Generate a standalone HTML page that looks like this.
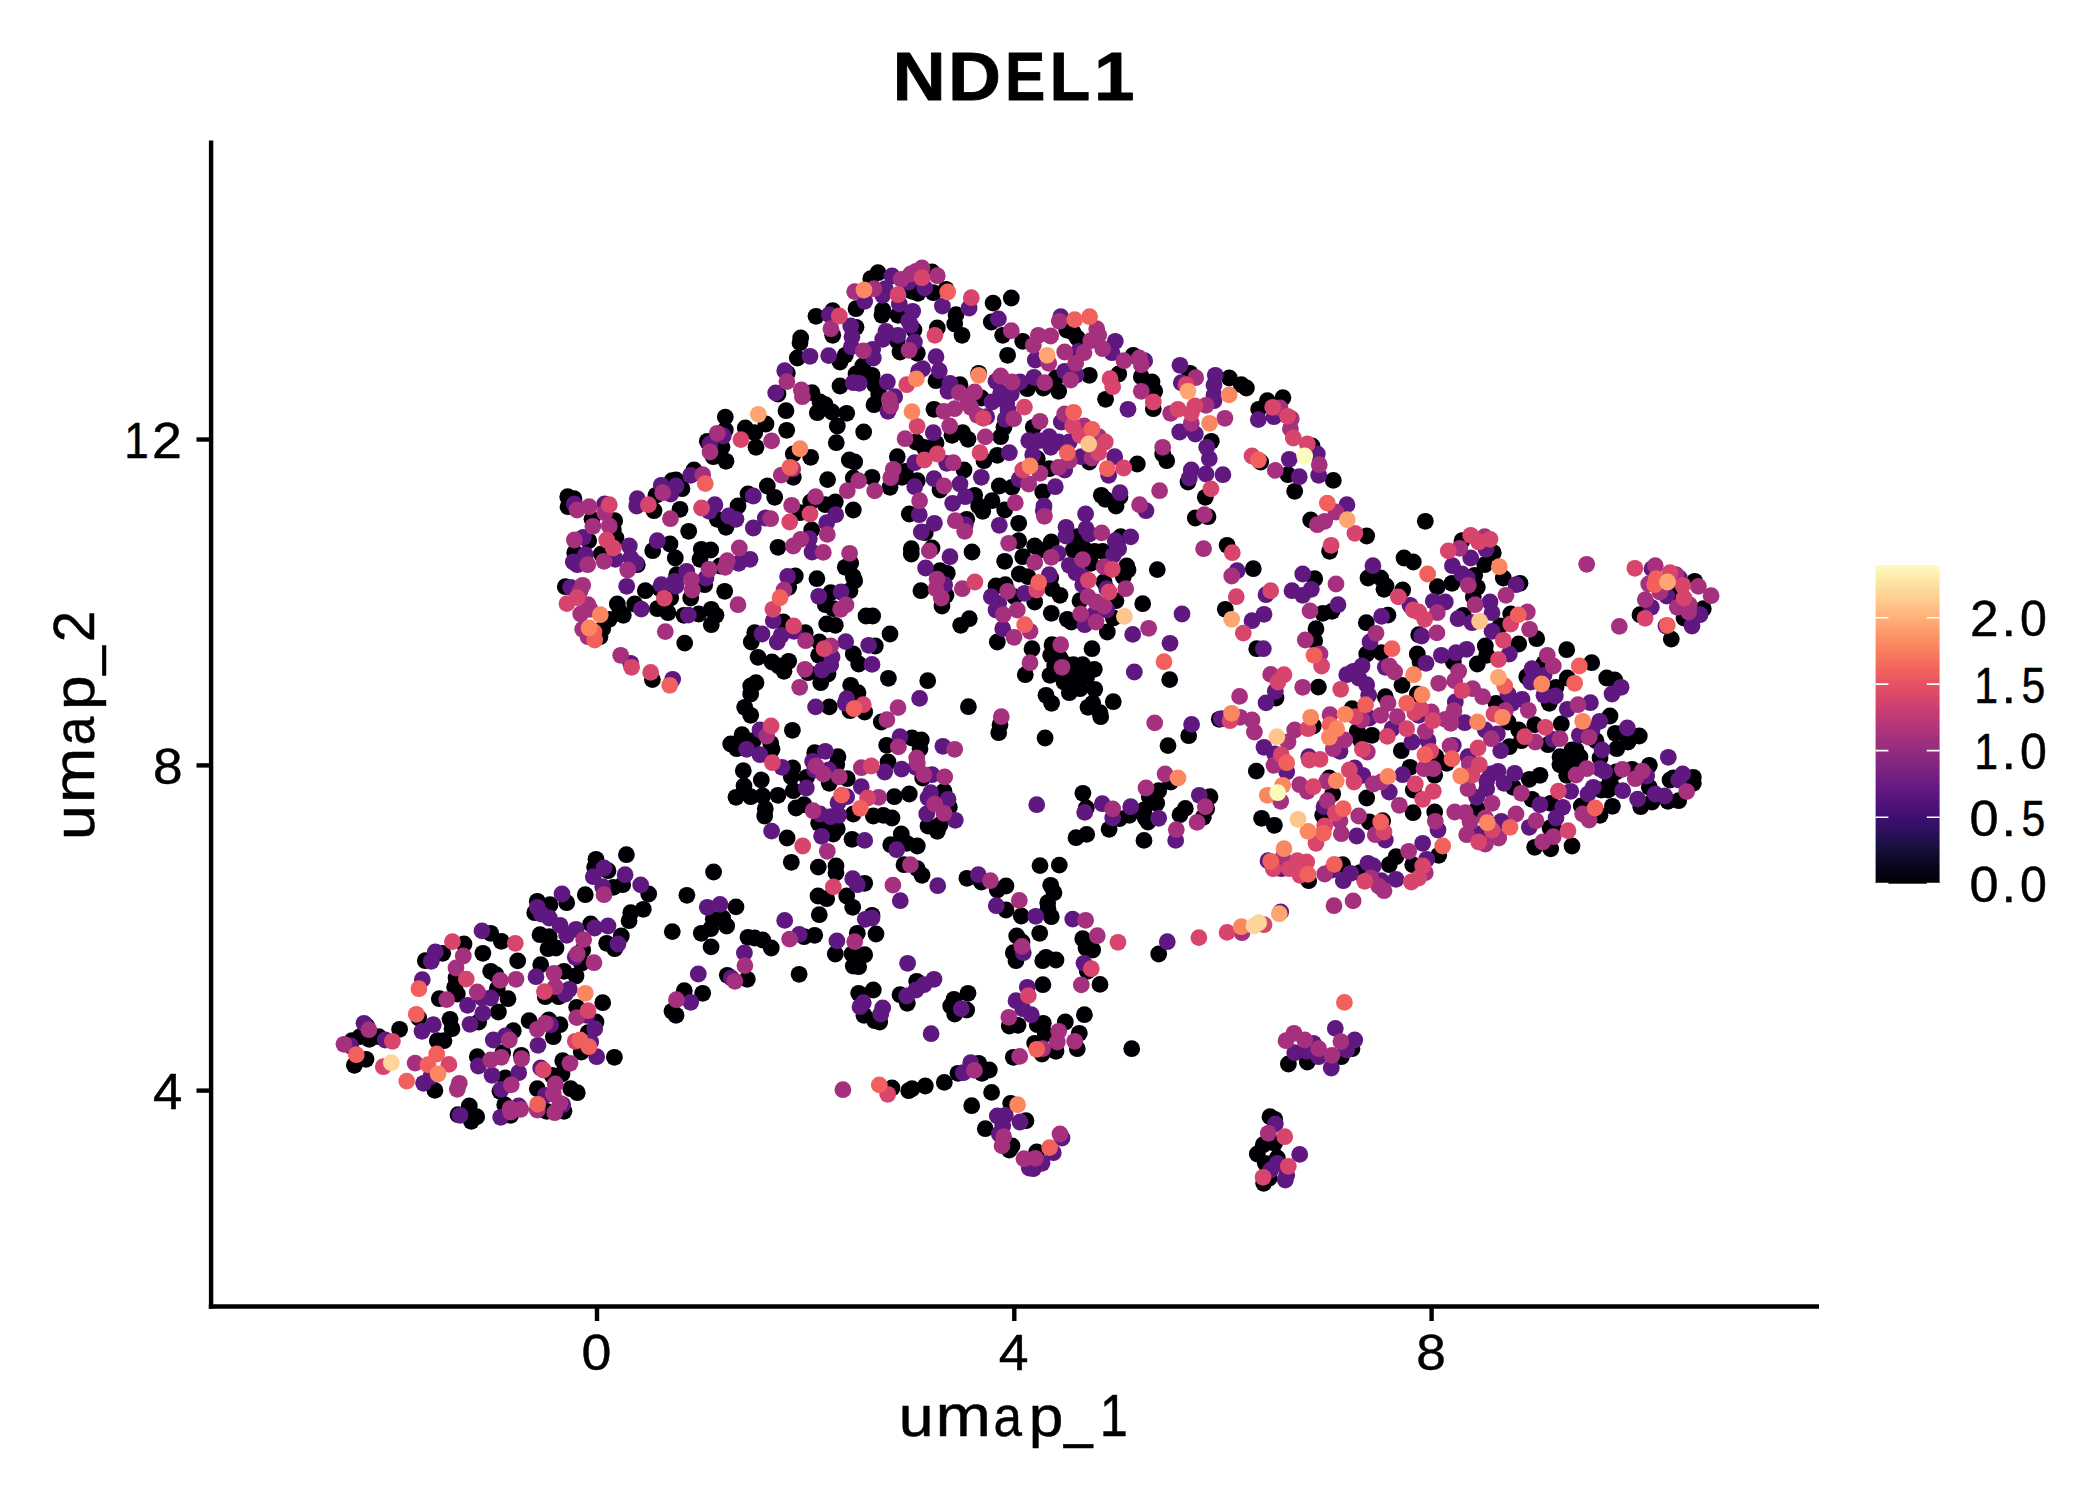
<!DOCTYPE html>
<html><head><meta charset="utf-8"><title>NDEL1</title>
<style>
html,body{margin:0;padding:0;background:#fff;}
body{width:2100px;height:1500px;overflow:hidden;font-family:"Liberation Sans",sans-serif;}
svg{display:block;position:absolute;left:0;top:0;}
text{font-family:"Liberation Sans",sans-serif;fill:#000;}
</style></head><body>
<svg width="2100" height="1500" viewBox="0 0 2100 1500">
<defs><linearGradient id="mg" x1="0" y1="1" x2="0" y2="0">
<stop offset="0.0000" stop-color="#000004"/><stop offset="0.0526" stop-color="#07061C"/><stop offset="0.1053" stop-color="#150E38"/><stop offset="0.1579" stop-color="#29115A"/><stop offset="0.2105" stop-color="#3F0F72"/><stop offset="0.2632" stop-color="#56147D"/><stop offset="0.3158" stop-color="#6A1C81"/><stop offset="0.3684" stop-color="#802582"/><stop offset="0.4211" stop-color="#942C80"/><stop offset="0.4737" stop-color="#AB337C"/><stop offset="0.5263" stop-color="#C03A76"/><stop offset="0.5789" stop-color="#D6456C"/><stop offset="0.6316" stop-color="#E85362"/><stop offset="0.6842" stop-color="#F4695C"/><stop offset="0.7368" stop-color="#FA815F"/><stop offset="0.7895" stop-color="#FD9B6B"/><stop offset="0.8421" stop-color="#FEB47B"/><stop offset="0.8947" stop-color="#FECD90"/><stop offset="0.9474" stop-color="#FDE5A7"/><stop offset="1.0000" stop-color="#FCFDBF"/>
</linearGradient></defs>
<rect x="0" y="0" width="2100" height="1500" fill="#fff"/>
<g id="pts">
<g fill="#000004"><circle cx="596.0" cy="859.3" r="8.4"/><circle cx="594.7" cy="867.3" r="8.4"/><circle cx="585.3" cy="894.7" r="8.4"/><circle cx="566.7" cy="902.7" r="8.4"/><circle cx="537.3" cy="901.3" r="8.4"/><circle cx="550.0" cy="904.7" r="8.4"/><circle cx="534.7" cy="912.7" r="8.4"/><circle cx="590.7" cy="924.0" r="8.4"/><circle cx="540.0" cy="934.7" r="8.4"/><circle cx="549.3" cy="936.7" r="8.4"/><circle cx="548.0" cy="948.7" r="8.4"/><circle cx="556.0" cy="948.0" r="8.4"/><circle cx="582.7" cy="950.0" r="8.4"/><circle cx="581.3" cy="963.3" r="8.4"/><circle cx="540.7" cy="964.7" r="8.4"/><circle cx="564.0" cy="971.3" r="8.4"/><circle cx="576.0" cy="976.0" r="8.4"/><circle cx="545.3" cy="996.7" r="8.4"/><circle cx="558.7" cy="996.7" r="8.4"/><circle cx="576.7" cy="1007.3" r="8.4"/><circle cx="529.1" cy="1020.7" r="8.4"/><circle cx="548.7" cy="1020.0" r="8.4"/><circle cx="560.0" cy="1024.7" r="8.4"/><circle cx="553.3" cy="1036.7" r="8.4"/><circle cx="513.3" cy="1030.7" r="8.4"/><circle cx="588.0" cy="1032.7" r="8.4"/><circle cx="596.0" cy="1022.0" r="8.4"/><circle cx="490.7" cy="933.3" r="8.4"/><circle cx="501.3" cy="941.3" r="8.4"/><circle cx="482.9" cy="953.3" r="8.4"/><circle cx="517.7" cy="960.9" r="8.4"/><circle cx="490.7" cy="971.3" r="8.4"/><circle cx="496.0" cy="974.7" r="8.4"/><circle cx="497.3" cy="988.7" r="8.4"/><circle cx="508.0" cy="998.7" r="8.4"/><circle cx="498.4" cy="1012.0" r="8.4"/><circle cx="478.7" cy="1022.0" r="8.4"/><circle cx="464.0" cy="944.0" r="8.4"/><circle cx="442.7" cy="953.3" r="8.4"/><circle cx="425.3" cy="960.7" r="8.4"/><circle cx="456.0" cy="978.0" r="8.4"/><circle cx="454.7" cy="987.3" r="8.4"/><circle cx="457.3" cy="994.0" r="8.4"/><circle cx="439.3" cy="998.7" r="8.4"/><circle cx="418.7" cy="1018.0" r="8.4"/><circle cx="450.0" cy="1019.3" r="8.4"/><circle cx="452.0" cy="1028.7" r="8.4"/><circle cx="437.3" cy="1040.7" r="8.4"/><circle cx="444.0" cy="1040.7" r="8.4"/><circle cx="399.6" cy="1029.3" r="8.4"/><circle cx="366.7" cy="1026.0" r="8.4"/><circle cx="352.0" cy="1040.7" r="8.4"/><circle cx="360.0" cy="1036.7" r="8.4"/><circle cx="369.3" cy="1039.3" r="8.4"/><circle cx="378.7" cy="1036.7" r="8.4"/><circle cx="366.0" cy="1059.3" r="8.4"/><circle cx="354.4" cy="1065.3" r="8.4"/><circle cx="434.9" cy="1090.4" r="8.4"/><circle cx="477.3" cy="1056.7" r="8.4"/><circle cx="502.7" cy="1052.7" r="8.4"/><circle cx="505.3" cy="1078.0" r="8.4"/><circle cx="521.3" cy="1055.3" r="8.4"/><circle cx="500.0" cy="1091.3" r="8.4"/><circle cx="552.0" cy="1075.3" r="8.4"/><circle cx="562.0" cy="1074.0" r="8.4"/><circle cx="562.7" cy="1060.7" r="8.4"/><circle cx="581.3" cy="1052.0" r="8.4"/><circle cx="537.3" cy="1088.7" r="8.4"/><circle cx="570.7" cy="1088.7" r="8.4"/><circle cx="577.3" cy="1092.7" r="8.4"/><circle cx="546.7" cy="1111.3" r="8.4"/><circle cx="564.0" cy="1111.3" r="8.4"/><circle cx="504.7" cy="1104.7" r="8.4"/><circle cx="510.7" cy="1115.3" r="8.4"/><circle cx="469.3" cy="1106.0" r="8.4"/><circle cx="458.0" cy="1114.7" r="8.4"/><circle cx="476.7" cy="1116.7" r="8.4"/><circle cx="471.3" cy="1121.3" r="8.4"/><circle cx="567.7" cy="496.7" r="8.4"/><circle cx="574.0" cy="498.7" r="8.4"/><circle cx="568.0" cy="506.7" r="8.4"/><circle cx="592.0" cy="519.3" r="8.4"/><circle cx="614.7" cy="520.7" r="8.4"/><circle cx="613.3" cy="530.0" r="8.4"/><circle cx="588.7" cy="540.7" r="8.4"/><circle cx="616.0" cy="538.0" r="8.4"/><circle cx="574.7" cy="552.7" r="8.4"/><circle cx="601.3" cy="554.0" r="8.4"/><circle cx="637.3" cy="564.7" r="8.4"/><circle cx="565.3" cy="586.7" r="8.4"/><circle cx="602.7" cy="628.7" r="8.4"/><circle cx="600.0" cy="636.7" r="8.4"/><circle cx="609.3" cy="619.3" r="8.4"/><circle cx="617.3" cy="604.0" r="8.4"/><circle cx="620.0" cy="612.0" r="8.4"/><circle cx="623.3" cy="615.3" r="8.4"/><circle cx="634.7" cy="604.0" r="8.4"/><circle cx="645.3" cy="590.7" r="8.4"/><circle cx="657.3" cy="608.7" r="8.4"/><circle cx="668.0" cy="612.7" r="8.4"/><circle cx="660.0" cy="588.7" r="8.4"/><circle cx="676.7" cy="574.7" r="8.4"/><circle cx="670.7" cy="598.0" r="8.4"/><circle cx="690.7" cy="598.0" r="8.4"/><circle cx="704.7" cy="584.7" r="8.4"/><circle cx="724.7" cy="591.3" r="8.4"/><circle cx="684.0" cy="615.3" r="8.4"/><circle cx="698.7" cy="614.0" r="8.4"/><circle cx="711.3" cy="609.3" r="8.4"/><circle cx="716.0" cy="615.3" r="8.4"/><circle cx="711.3" cy="624.7" r="8.4"/><circle cx="684.7" cy="643.1" r="8.4"/><circle cx="654.0" cy="510.7" r="8.4"/><circle cx="656.0" cy="495.3" r="8.4"/><circle cx="672.0" cy="480.7" r="8.4"/><circle cx="676.0" cy="480.0" r="8.4"/><circle cx="682.0" cy="488.7" r="8.4"/><circle cx="694.0" cy="470.0" r="8.4"/><circle cx="713.3" cy="456.7" r="8.4"/><circle cx="726.0" cy="461.3" r="8.4"/><circle cx="680.0" cy="509.3" r="8.4"/><circle cx="688.7" cy="531.3" r="8.4"/><circle cx="738.0" cy="506.0" r="8.4"/><circle cx="717.3" cy="519.3" r="8.4"/><circle cx="726.0" cy="527.3" r="8.4"/><circle cx="670.0" cy="544.0" r="8.4"/><circle cx="652.7" cy="550.7" r="8.4"/><circle cx="675.3" cy="558.0" r="8.4"/><circle cx="701.3" cy="549.3" r="8.4"/><circle cx="710.7" cy="550.0" r="8.4"/><circle cx="700.0" cy="559.3" r="8.4"/><circle cx="720.0" cy="566.0" r="8.4"/><circle cx="652.4" cy="679.6" r="8.4"/><circle cx="730.7" cy="744.0" r="8.4"/><circle cx="736.7" cy="748.7" r="8.4"/><circle cx="736.0" cy="797.3" r="8.4"/><circle cx="878.0" cy="272.7" r="8.4"/><circle cx="870.7" cy="278.7" r="8.4"/><circle cx="856.0" cy="308.7" r="8.4"/><circle cx="832.7" cy="310.7" r="8.4"/><circle cx="816.0" cy="316.3" r="8.4"/><circle cx="832.7" cy="335.3" r="8.4"/><circle cx="856.0" cy="327.3" r="8.4"/><circle cx="800.7" cy="338.0" r="8.4"/><circle cx="800.0" cy="342.7" r="8.4"/><circle cx="797.3" cy="358.0" r="8.4"/><circle cx="845.3" cy="355.3" r="8.4"/><circle cx="840.0" cy="362.0" r="8.4"/><circle cx="862.7" cy="366.0" r="8.4"/><circle cx="856.0" cy="374.0" r="8.4"/><circle cx="872.0" cy="375.3" r="8.4"/><circle cx="787.3" cy="373.3" r="8.4"/><circle cx="778.0" cy="394.0" r="8.4"/><circle cx="812.0" cy="392.7" r="8.4"/><circle cx="820.0" cy="402.0" r="8.4"/><circle cx="825.3" cy="404.7" r="8.4"/><circle cx="817.3" cy="412.7" r="8.4"/><circle cx="832.0" cy="412.0" r="8.4"/><circle cx="846.7" cy="413.3" r="8.4"/><circle cx="837.3" cy="426.0" r="8.4"/><circle cx="840.0" cy="386.0" r="8.4"/><circle cx="874.7" cy="384.7" r="8.4"/><circle cx="874.0" cy="404.7" r="8.4"/><circle cx="878.7" cy="394.0" r="8.4"/><circle cx="863.7" cy="432.0" r="8.4"/><circle cx="836.3" cy="442.7" r="8.4"/><circle cx="786.0" cy="410.7" r="8.4"/><circle cx="786.7" cy="430.3" r="8.4"/><circle cx="766.0" cy="424.0" r="8.4"/><circle cx="725.3" cy="417.1" r="8.4"/><circle cx="745.3" cy="428.0" r="8.4"/><circle cx="754.7" cy="432.7" r="8.4"/><circle cx="725.3" cy="430.0" r="8.4"/><circle cx="707.3" cy="441.3" r="8.4"/><circle cx="756.0" cy="447.3" r="8.4"/><circle cx="722.0" cy="447.3" r="8.4"/><circle cx="626.4" cy="854.7" r="8.4"/><circle cx="608.0" cy="870.7" r="8.4"/><circle cx="622.7" cy="884.7" r="8.4"/><circle cx="613.3" cy="887.3" r="8.4"/><circle cx="648.7" cy="894.0" r="8.4"/><circle cx="643.3" cy="909.3" r="8.4"/><circle cx="630.7" cy="912.7" r="8.4"/><circle cx="629.1" cy="920.7" r="8.4"/><circle cx="621.3" cy="936.0" r="8.4"/><circle cx="606.7" cy="943.3" r="8.4"/><circle cx="614.7" cy="948.7" r="8.4"/><circle cx="713.6" cy="872.0" r="8.4"/><circle cx="686.9" cy="895.3" r="8.4"/><circle cx="736.0" cy="906.9" r="8.4"/><circle cx="713.3" cy="919.3" r="8.4"/><circle cx="722.7" cy="918.0" r="8.4"/><circle cx="726.7" cy="926.0" r="8.4"/><circle cx="710.7" cy="928.7" r="8.4"/><circle cx="701.3" cy="933.3" r="8.4"/><circle cx="672.3" cy="931.6" r="8.4"/><circle cx="711.1" cy="946.9" r="8.4"/><circle cx="748.0" cy="937.3" r="8.4"/><circle cx="754.7" cy="938.0" r="8.4"/><circle cx="762.7" cy="940.0" r="8.4"/><circle cx="771.3" cy="948.0" r="8.4"/><circle cx="727.3" cy="975.3" r="8.4"/><circle cx="747.3" cy="979.3" r="8.4"/><circle cx="684.3" cy="990.7" r="8.4"/><circle cx="702.7" cy="993.3" r="8.4"/><circle cx="672.0" cy="1011.3" r="8.4"/><circle cx="676.0" cy="1015.3" r="8.4"/><circle cx="799.1" cy="974.3" r="8.4"/><circle cx="602.7" cy="1002.7" r="8.4"/><circle cx="791.3" cy="862.3" r="8.4"/><circle cx="818.3" cy="867.1" r="8.4"/><circle cx="836.0" cy="866.0" r="8.4"/><circle cx="836.0" cy="872.7" r="8.4"/><circle cx="864.7" cy="883.3" r="8.4"/><circle cx="818.0" cy="896.0" r="8.4"/><circle cx="826.7" cy="898.7" r="8.4"/><circle cx="846.7" cy="896.0" r="8.4"/><circle cx="852.7" cy="907.3" r="8.4"/><circle cx="819.3" cy="914.7" r="8.4"/><circle cx="804.0" cy="936.7" r="8.4"/><circle cx="814.7" cy="935.3" r="8.4"/><circle cx="872.0" cy="915.3" r="8.4"/><circle cx="857.3" cy="933.3" r="8.4"/><circle cx="876.0" cy="934.0" r="8.4"/><circle cx="835.3" cy="954.0" r="8.4"/><circle cx="852.0" cy="954.0" r="8.4"/><circle cx="864.7" cy="954.7" r="8.4"/><circle cx="853.3" cy="966.0" r="8.4"/><circle cx="858.7" cy="966.7" r="8.4"/><circle cx="858.7" cy="993.3" r="8.4"/><circle cx="873.3" cy="990.0" r="8.4"/><circle cx="864.0" cy="1015.3" r="8.4"/><circle cx="874.7" cy="1020.7" r="8.4"/><circle cx="879.7" cy="1022.0" r="8.4"/><circle cx="614.4" cy="1057.3" r="8.4"/><circle cx="793.3" cy="454.0" r="8.4"/><circle cx="810.7" cy="457.3" r="8.4"/><circle cx="793.3" cy="477.3" r="8.4"/><circle cx="767.3" cy="486.0" r="8.4"/><circle cx="774.7" cy="497.3" r="8.4"/><circle cx="748.0" cy="494.0" r="8.4"/><circle cx="827.6" cy="479.6" r="8.4"/><circle cx="849.3" cy="460.0" r="8.4"/><circle cx="854.7" cy="462.0" r="8.4"/><circle cx="853.3" cy="478.0" r="8.4"/><circle cx="872.0" cy="477.3" r="8.4"/><circle cx="890.0" cy="487.3" r="8.4"/><circle cx="897.3" cy="456.7" r="8.4"/><circle cx="905.3" cy="471.3" r="8.4"/><circle cx="902.0" cy="477.3" r="8.4"/><circle cx="917.3" cy="480.7" r="8.4"/><circle cx="964.0" cy="470.0" r="8.4"/><circle cx="984.0" cy="460.7" r="8.4"/><circle cx="997.3" cy="455.3" r="8.4"/><circle cx="999.3" cy="486.0" r="8.4"/><circle cx="1012.0" cy="487.3" r="8.4"/><circle cx="940.0" cy="490.0" r="8.4"/><circle cx="974.7" cy="495.3" r="8.4"/><circle cx="909.3" cy="514.0" r="8.4"/><circle cx="925.3" cy="532.7" r="8.4"/><circle cx="966.7" cy="519.3" r="8.4"/><circle cx="978.7" cy="506.0" r="8.4"/><circle cx="982.7" cy="511.3" r="8.4"/><circle cx="992.0" cy="500.7" r="8.4"/><circle cx="1004.7" cy="510.0" r="8.4"/><circle cx="1018.7" cy="523.3" r="8.4"/><circle cx="1018.7" cy="540.7" r="8.4"/><circle cx="972.0" cy="552.0" r="8.4"/><circle cx="1004.7" cy="561.3" r="8.4"/><circle cx="1019.3" cy="574.0" r="8.4"/><circle cx="911.3" cy="548.7" r="8.4"/><circle cx="911.3" cy="554.0" r="8.4"/><circle cx="932.0" cy="548.0" r="8.4"/><circle cx="940.0" cy="570.7" r="8.4"/><circle cx="947.3" cy="573.3" r="8.4"/><circle cx="946.0" cy="595.3" r="8.4"/><circle cx="942.0" cy="606.0" r="8.4"/><circle cx="920.9" cy="590.7" r="8.4"/><circle cx="996.0" cy="586.0" r="8.4"/><circle cx="1005.3" cy="584.7" r="8.4"/><circle cx="997.3" cy="642.0" r="8.4"/><circle cx="960.7" cy="625.3" r="8.4"/><circle cx="969.3" cy="618.7" r="8.4"/><circle cx="1014.7" cy="596.7" r="8.4"/><circle cx="890.0" cy="634.0" r="8.4"/><circle cx="866.0" cy="616.0" r="8.4"/><circle cx="872.7" cy="616.0" r="8.4"/><circle cx="826.7" cy="624.0" r="8.4"/><circle cx="835.3" cy="625.3" r="8.4"/><circle cx="830.7" cy="592.7" r="8.4"/><circle cx="825.3" cy="604.7" r="8.4"/><circle cx="833.3" cy="608.7" r="8.4"/><circle cx="845.3" cy="567.3" r="8.4"/><circle cx="850.7" cy="563.3" r="8.4"/><circle cx="853.3" cy="576.7" r="8.4"/><circle cx="854.7" cy="580.7" r="8.4"/><circle cx="850.0" cy="590.7" r="8.4"/><circle cx="853.3" cy="510.0" r="8.4"/><circle cx="816.9" cy="578.7" r="8.4"/><circle cx="795.3" cy="576.0" r="8.4"/><circle cx="788.7" cy="587.3" r="8.4"/><circle cx="783.3" cy="622.0" r="8.4"/><circle cx="805.3" cy="632.7" r="8.4"/><circle cx="754.7" cy="632.7" r="8.4"/><circle cx="751.3" cy="642.0" r="8.4"/><circle cx="819.3" cy="642.0" r="8.4"/><circle cx="875.3" cy="646.0" r="8.4"/><circle cx="800.0" cy="512.7" r="8.4"/><circle cx="810.7" cy="502.0" r="8.4"/><circle cx="825.3" cy="504.7" r="8.4"/><circle cx="835.3" cy="502.0" r="8.4"/><circle cx="811.7" cy="530.0" r="8.4"/><circle cx="778.0" cy="547.3" r="8.4"/><circle cx="758.0" cy="657.3" r="8.4"/><circle cx="772.0" cy="662.0" r="8.4"/><circle cx="788.7" cy="661.3" r="8.4"/><circle cx="784.0" cy="671.3" r="8.4"/><circle cx="778.7" cy="666.0" r="8.4"/><circle cx="818.7" cy="655.3" r="8.4"/><circle cx="808.0" cy="672.7" r="8.4"/><circle cx="828.0" cy="674.0" r="8.4"/><circle cx="820.7" cy="682.7" r="8.4"/><circle cx="853.3" cy="654.0" r="8.4"/><circle cx="858.7" cy="664.0" r="8.4"/><circle cx="888.4" cy="678.3" r="8.4"/><circle cx="927.7" cy="680.7" r="8.4"/><circle cx="850.7" cy="685.3" r="8.4"/><circle cx="858.0" cy="692.7" r="8.4"/><circle cx="864.7" cy="712.0" r="8.4"/><circle cx="850.0" cy="710.7" r="8.4"/><circle cx="829.3" cy="706.9" r="8.4"/><circle cx="756.0" cy="682.7" r="8.4"/><circle cx="750.7" cy="686.0" r="8.4"/><circle cx="750.7" cy="694.0" r="8.4"/><circle cx="744.7" cy="707.3" r="8.4"/><circle cx="750.7" cy="715.3" r="8.4"/><circle cx="792.4" cy="730.3" r="8.4"/><circle cx="742.0" cy="734.7" r="8.4"/><circle cx="753.3" cy="740.7" r="8.4"/><circle cx="770.7" cy="743.3" r="8.4"/><circle cx="772.0" cy="749.3" r="8.4"/><circle cx="792.7" cy="768.0" r="8.4"/><circle cx="743.3" cy="770.7" r="8.4"/><circle cx="761.3" cy="780.0" r="8.4"/><circle cx="791.3" cy="776.7" r="8.4"/><circle cx="744.0" cy="786.0" r="8.4"/><circle cx="750.7" cy="796.7" r="8.4"/><circle cx="762.7" cy="796.0" r="8.4"/><circle cx="778.0" cy="795.3" r="8.4"/><circle cx="793.3" cy="790.7" r="8.4"/><circle cx="765.3" cy="808.7" r="8.4"/><circle cx="764.7" cy="816.0" r="8.4"/><circle cx="796.0" cy="808.0" r="8.4"/><circle cx="804.0" cy="804.7" r="8.4"/><circle cx="787.1" cy="838.0" r="8.4"/><circle cx="806.7" cy="777.3" r="8.4"/><circle cx="814.7" cy="752.7" r="8.4"/><circle cx="838.0" cy="756.7" r="8.4"/><circle cx="836.7" cy="764.7" r="8.4"/><circle cx="847.3" cy="778.7" r="8.4"/><circle cx="829.3" cy="783.3" r="8.4"/><circle cx="818.7" cy="823.3" r="8.4"/><circle cx="826.7" cy="827.3" r="8.4"/><circle cx="837.3" cy="828.7" r="8.4"/><circle cx="833.3" cy="834.0" r="8.4"/><circle cx="888.0" cy="762.0" r="8.4"/><circle cx="853.3" cy="814.0" r="8.4"/><circle cx="873.3" cy="816.0" r="8.4"/><circle cx="883.3" cy="815.3" r="8.4"/><circle cx="892.0" cy="818.0" r="8.4"/><circle cx="894.3" cy="796.7" r="8.4"/><circle cx="909.3" cy="794.0" r="8.4"/><circle cx="852.0" cy="839.3" r="8.4"/><circle cx="901.3" cy="834.0" r="8.4"/><circle cx="890.7" cy="844.7" r="8.4"/><circle cx="906.7" cy="843.3" r="8.4"/><circle cx="917.3" cy="846.0" r="8.4"/><circle cx="881.3" cy="722.0" r="8.4"/><circle cx="968.4" cy="706.7" r="8.4"/><circle cx="1000.0" cy="724.7" r="8.4"/><circle cx="998.7" cy="732.7" r="8.4"/><circle cx="886.7" cy="745.3" r="8.4"/><circle cx="912.0" cy="738.0" r="8.4"/><circle cx="921.3" cy="740.0" r="8.4"/><circle cx="920.0" cy="748.7" r="8.4"/><circle cx="922.7" cy="778.0" r="8.4"/><circle cx="944.0" cy="791.3" r="8.4"/><circle cx="949.3" cy="807.3" r="8.4"/><circle cx="928.0" cy="826.0" r="8.4"/><circle cx="940.0" cy="824.7" r="8.4"/><circle cx="937.3" cy="831.3" r="8.4"/><circle cx="932.0" cy="272.0" r="8.4"/><circle cx="912.0" cy="291.3" r="8.4"/><circle cx="918.0" cy="293.3" r="8.4"/><circle cx="933.3" cy="292.7" r="8.4"/><circle cx="946.0" cy="289.3" r="8.4"/><circle cx="882.7" cy="310.0" r="8.4"/><circle cx="882.0" cy="315.3" r="8.4"/><circle cx="898.0" cy="315.3" r="8.4"/><circle cx="956.0" cy="314.7" r="8.4"/><circle cx="954.7" cy="324.0" r="8.4"/><circle cx="962.0" cy="335.3" r="8.4"/><circle cx="937.3" cy="328.0" r="8.4"/><circle cx="993.1" cy="303.1" r="8.4"/><circle cx="1011.3" cy="298.0" r="8.4"/><circle cx="991.3" cy="322.0" r="8.4"/><circle cx="1002.7" cy="335.3" r="8.4"/><circle cx="1022.7" cy="341.3" r="8.4"/><circle cx="1007.6" cy="355.3" r="8.4"/><circle cx="914.0" cy="330.0" r="8.4"/><circle cx="897.3" cy="340.7" r="8.4"/><circle cx="900.0" cy="352.0" r="8.4"/><circle cx="917.3" cy="353.3" r="8.4"/><circle cx="936.0" cy="380.7" r="8.4"/><circle cx="960.0" cy="384.7" r="8.4"/><circle cx="978.7" cy="373.3" r="8.4"/><circle cx="981.3" cy="398.0" r="8.4"/><circle cx="934.0" cy="409.3" r="8.4"/><circle cx="962.7" cy="432.7" r="8.4"/><circle cx="952.0" cy="435.3" r="8.4"/><circle cx="968.0" cy="439.3" r="8.4"/><circle cx="916.0" cy="442.0" r="8.4"/><circle cx="936.0" cy="443.3" r="8.4"/><circle cx="924.0" cy="447.3" r="8.4"/><circle cx="1000.7" cy="436.7" r="8.4"/><circle cx="1004.0" cy="427.3" r="8.4"/><circle cx="1027.3" cy="388.7" r="8.4"/><circle cx="1043.3" cy="388.0" r="8.4"/><circle cx="1058.7" cy="391.3" r="8.4"/><circle cx="1056.0" cy="378.0" r="8.4"/><circle cx="1089.3" cy="375.3" r="8.4"/><circle cx="1073.3" cy="332.7" r="8.4"/><circle cx="1077.3" cy="338.0" r="8.4"/><circle cx="1066.7" cy="330.0" r="8.4"/><circle cx="1133.3" cy="355.3" r="8.4"/><circle cx="1118.7" cy="374.0" r="8.4"/><circle cx="1141.3" cy="376.7" r="8.4"/><circle cx="1152.0" cy="382.0" r="8.4"/><circle cx="1154.7" cy="391.3" r="8.4"/><circle cx="1153.3" cy="408.7" r="8.4"/><circle cx="1105.6" cy="399.3" r="8.4"/><circle cx="1033.3" cy="427.3" r="8.4"/><circle cx="904.0" cy="864.7" r="8.4"/><circle cx="917.3" cy="868.7" r="8.4"/><circle cx="922.0" cy="875.3" r="8.4"/><circle cx="966.9" cy="878.3" r="8.4"/><circle cx="981.3" cy="882.0" r="8.4"/><circle cx="1006.0" cy="886.0" r="8.4"/><circle cx="997.3" cy="890.0" r="8.4"/><circle cx="1040.0" cy="865.6" r="8.4"/><circle cx="1059.3" cy="865.1" r="8.4"/><circle cx="1050.7" cy="885.3" r="8.4"/><circle cx="1054.0" cy="892.7" r="8.4"/><circle cx="1047.7" cy="902.7" r="8.4"/><circle cx="1006.0" cy="910.0" r="8.4"/><circle cx="1021.3" cy="916.0" r="8.4"/><circle cx="1051.3" cy="916.7" r="8.4"/><circle cx="1048.0" cy="908.7" r="8.4"/><circle cx="1082.7" cy="938.7" r="8.4"/><circle cx="1086.0" cy="948.0" r="8.4"/><circle cx="1092.7" cy="950.0" r="8.4"/><circle cx="1039.7" cy="933.3" r="8.4"/><circle cx="1016.7" cy="936.0" r="8.4"/><circle cx="1022.0" cy="942.0" r="8.4"/><circle cx="1013.3" cy="952.7" r="8.4"/><circle cx="1016.0" cy="960.7" r="8.4"/><circle cx="1042.7" cy="960.7" r="8.4"/><circle cx="1046.0" cy="957.3" r="8.4"/><circle cx="1056.0" cy="960.0" r="8.4"/><circle cx="1087.3" cy="971.3" r="8.4"/><circle cx="1100.0" cy="984.4" r="8.4"/><circle cx="1042.9" cy="984.7" r="8.4"/><circle cx="1009.3" cy="1026.0" r="8.4"/><circle cx="1018.0" cy="1025.3" r="8.4"/><circle cx="1037.3" cy="1024.7" r="8.4"/><circle cx="1043.3" cy="1023.3" r="8.4"/><circle cx="1065.3" cy="1022.0" r="8.4"/><circle cx="1084.4" cy="1014.7" r="8.4"/><circle cx="1079.3" cy="1033.3" r="8.4"/><circle cx="1045.3" cy="1034.0" r="8.4"/><circle cx="1034.7" cy="1043.3" r="8.4"/><circle cx="1077.3" cy="1048.7" r="8.4"/><circle cx="1131.7" cy="1048.7" r="8.4"/><circle cx="1158.7" cy="954.0" r="8.4"/><circle cx="916.7" cy="981.3" r="8.4"/><circle cx="900.0" cy="994.7" r="8.4"/><circle cx="907.3" cy="1003.3" r="8.4"/><circle cx="968.0" cy="993.3" r="8.4"/><circle cx="954.0" cy="999.3" r="8.4"/><circle cx="950.7" cy="1006.0" r="8.4"/><circle cx="954.7" cy="1014.0" r="8.4"/><circle cx="966.7" cy="1010.0" r="8.4"/><circle cx="892.0" cy="1088.0" r="8.4"/><circle cx="908.7" cy="1090.7" r="8.4"/><circle cx="912.0" cy="1088.7" r="8.4"/><circle cx="925.3" cy="1086.0" r="8.4"/><circle cx="944.3" cy="1082.4" r="8.4"/><circle cx="958.0" cy="1073.3" r="8.4"/><circle cx="978.7" cy="1063.3" r="8.4"/><circle cx="989.3" cy="1070.0" r="8.4"/><circle cx="982.0" cy="1073.3" r="8.4"/><circle cx="991.6" cy="1092.4" r="8.4"/><circle cx="971.7" cy="1105.7" r="8.4"/><circle cx="1010.7" cy="1103.3" r="8.4"/><circle cx="1026.0" cy="1120.7" r="8.4"/><circle cx="985.3" cy="1128.7" r="8.4"/><circle cx="1012.0" cy="1146.0" r="8.4"/><circle cx="1009.3" cy="1150.0" r="8.4"/><circle cx="1036.7" cy="1152.0" r="8.4"/><circle cx="1013.3" cy="1057.3" r="8.4"/><circle cx="1042.0" cy="1054.0" r="8.4"/><circle cx="1056.0" cy="1051.3" r="8.4"/><circle cx="1037.3" cy="458.7" r="8.4"/><circle cx="1049.3" cy="468.7" r="8.4"/><circle cx="1089.3" cy="462.0" r="8.4"/><circle cx="1137.3" cy="464.0" r="8.4"/><circle cx="1162.7" cy="454.0" r="8.4"/><circle cx="1166.7" cy="460.7" r="8.4"/><circle cx="1042.7" cy="492.0" r="8.4"/><circle cx="1101.3" cy="495.3" r="8.4"/><circle cx="1105.3" cy="499.3" r="8.4"/><circle cx="1120.0" cy="496.7" r="8.4"/><circle cx="1116.0" cy="506.0" r="8.4"/><circle cx="1120.7" cy="536.7" r="8.4"/><circle cx="1077.3" cy="536.7" r="8.4"/><circle cx="1051.3" cy="542.0" r="8.4"/><circle cx="1034.7" cy="546.0" r="8.4"/><circle cx="1040.0" cy="550.0" r="8.4"/><circle cx="1073.3" cy="550.0" r="8.4"/><circle cx="1084.0" cy="548.7" r="8.4"/><circle cx="1094.7" cy="551.3" r="8.4"/><circle cx="1102.7" cy="551.3" r="8.4"/><circle cx="1022.7" cy="556.7" r="8.4"/><circle cx="1028.0" cy="576.7" r="8.4"/><circle cx="1090.7" cy="563.3" r="8.4"/><circle cx="1126.7" cy="566.0" r="8.4"/><circle cx="1128.0" cy="570.0" r="8.4"/><circle cx="1123.3" cy="576.7" r="8.4"/><circle cx="1157.3" cy="569.6" r="8.4"/><circle cx="1050.7" cy="578.0" r="8.4"/><circle cx="1034.7" cy="602.0" r="8.4"/><circle cx="1052.0" cy="588.7" r="8.4"/><circle cx="1060.0" cy="595.3" r="8.4"/><circle cx="1104.0" cy="582.0" r="8.4"/><circle cx="1080.0" cy="600.7" r="8.4"/><circle cx="1116.0" cy="600.7" r="8.4"/><circle cx="1142.7" cy="603.7" r="8.4"/><circle cx="1051.3" cy="613.3" r="8.4"/><circle cx="1067.3" cy="619.3" r="8.4"/><circle cx="1071.3" cy="622.0" r="8.4"/><circle cx="1113.3" cy="618.0" r="8.4"/><circle cx="1107.3" cy="632.0" r="8.4"/><circle cx="1032.0" cy="648.7" r="8.4"/><circle cx="1052.0" cy="644.7" r="8.4"/><circle cx="1092.0" cy="648.7" r="8.4"/><circle cx="1188.0" cy="482.0" r="8.4"/><circle cx="1205.3" cy="497.3" r="8.4"/><circle cx="1195.3" cy="518.0" r="8.4"/><circle cx="1208.0" cy="516.7" r="8.4"/><circle cx="1227.1" cy="545.3" r="8.4"/><circle cx="1253.3" cy="568.7" r="8.4"/><circle cx="1225.3" cy="609.3" r="8.4"/><circle cx="1256.7" cy="648.7" r="8.4"/><circle cx="1260.7" cy="462.0" r="8.4"/><circle cx="1288.0" cy="474.7" r="8.4"/><circle cx="1294.7" cy="491.3" r="8.4"/><circle cx="1025.3" cy="674.7" r="8.4"/><circle cx="1050.7" cy="655.3" r="8.4"/><circle cx="1060.0" cy="658.0" r="8.4"/><circle cx="1050.0" cy="675.3" r="8.4"/><circle cx="1066.7" cy="675.3" r="8.4"/><circle cx="1073.3" cy="664.7" r="8.4"/><circle cx="1094.3" cy="669.3" r="8.4"/><circle cx="1073.3" cy="683.3" r="8.4"/><circle cx="1069.3" cy="692.7" r="8.4"/><circle cx="1080.0" cy="688.7" r="8.4"/><circle cx="1094.7" cy="689.3" r="8.4"/><circle cx="1046.0" cy="695.3" r="8.4"/><circle cx="1051.6" cy="703.3" r="8.4"/><circle cx="1088.0" cy="707.3" r="8.4"/><circle cx="1092.7" cy="703.3" r="8.4"/><circle cx="1100.0" cy="712.7" r="8.4"/><circle cx="1100.7" cy="716.7" r="8.4"/><circle cx="1113.3" cy="701.7" r="8.4"/><circle cx="1045.1" cy="738.0" r="8.4"/><circle cx="1169.7" cy="679.6" r="8.4"/><circle cx="1188.7" cy="735.7" r="8.4"/><circle cx="1168.0" cy="745.6" r="8.4"/><circle cx="1276.0" cy="698.0" r="8.4"/><circle cx="1219.3" cy="719.3" r="8.4"/><circle cx="1256.3" cy="771.1" r="8.4"/><circle cx="1261.6" cy="818.3" r="8.4"/><circle cx="1274.4" cy="825.3" r="8.4"/><circle cx="1170.7" cy="782.0" r="8.4"/><circle cx="1158.7" cy="790.7" r="8.4"/><circle cx="1149.3" cy="796.7" r="8.4"/><circle cx="1156.7" cy="803.3" r="8.4"/><circle cx="1144.0" cy="810.0" r="8.4"/><circle cx="1145.3" cy="818.0" r="8.4"/><circle cx="1148.0" cy="822.0" r="8.4"/><circle cx="1129.3" cy="815.3" r="8.4"/><circle cx="1119.3" cy="818.7" r="8.4"/><circle cx="1086.3" cy="808.0" r="8.4"/><circle cx="1082.9" cy="793.3" r="8.4"/><circle cx="1109.1" cy="829.3" r="8.4"/><circle cx="1086.7" cy="834.4" r="8.4"/><circle cx="1076.0" cy="837.7" r="8.4"/><circle cx="1144.0" cy="840.4" r="8.4"/><circle cx="1185.3" cy="808.4" r="8.4"/><circle cx="1180.0" cy="814.7" r="8.4"/><circle cx="1203.3" cy="817.3" r="8.4"/><circle cx="1206.7" cy="808.7" r="8.4"/><circle cx="1210.0" cy="796.7" r="8.4"/><circle cx="1190.0" cy="373.3" r="8.4"/><circle cx="1229.3" cy="378.0" r="8.4"/><circle cx="1241.3" cy="384.7" r="8.4"/><circle cx="1246.4" cy="388.0" r="8.4"/><circle cx="1211.3" cy="441.3" r="8.4"/><circle cx="1267.3" cy="400.7" r="8.4"/><circle cx="1282.9" cy="397.7" r="8.4"/><circle cx="1258.7" cy="409.3" r="8.4"/><circle cx="1312.0" cy="446.0" r="8.4"/><circle cx="1308.7" cy="880.7" r="8.4"/><circle cx="1342.7" cy="864.7" r="8.4"/><circle cx="1360.0" cy="872.7" r="8.4"/><circle cx="1389.3" cy="864.7" r="8.4"/><circle cx="1396.0" cy="856.7" r="8.4"/><circle cx="1412.7" cy="864.7" r="8.4"/><circle cx="1438.7" cy="855.3" r="8.4"/><circle cx="1352.0" cy="1048.7" r="8.4"/><circle cx="1270.0" cy="1116.7" r="8.4"/><circle cx="1274.7" cy="1119.3" r="8.4"/><circle cx="1263.3" cy="1144.7" r="8.4"/><circle cx="1274.7" cy="1143.3" r="8.4"/><circle cx="1257.3" cy="1154.0" r="8.4"/><circle cx="1277.3" cy="1158.0" r="8.4"/><circle cx="1269.3" cy="1178.0" r="8.4"/><circle cx="1263.7" cy="1183.3" r="8.4"/><circle cx="1265.3" cy="1163.3" r="8.4"/><circle cx="1288.4" cy="1064.0" r="8.4"/><circle cx="1307.3" cy="1062.0" r="8.4"/><circle cx="1341.3" cy="1056.7" r="8.4"/><circle cx="1333.3" cy="480.4" r="8.4"/><circle cx="1310.7" cy="520.0" r="8.4"/><circle cx="1366.7" cy="536.0" r="8.4"/><circle cx="1329.6" cy="551.3" r="8.4"/><circle cx="1425.3" cy="521.3" r="8.4"/><circle cx="1368.0" cy="578.0" r="8.4"/><circle cx="1380.7" cy="578.0" r="8.4"/><circle cx="1384.0" cy="589.3" r="8.4"/><circle cx="1386.0" cy="586.0" r="8.4"/><circle cx="1404.0" cy="558.0" r="8.4"/><circle cx="1413.3" cy="562.0" r="8.4"/><circle cx="1402.7" cy="590.0" r="8.4"/><circle cx="1437.3" cy="586.7" r="8.4"/><circle cx="1452.0" cy="583.3" r="8.4"/><circle cx="1463.3" cy="615.3" r="8.4"/><circle cx="1418.7" cy="634.7" r="8.4"/><circle cx="1388.0" cy="615.1" r="8.4"/><circle cx="1366.3" cy="622.7" r="8.4"/><circle cx="1314.7" cy="578.7" r="8.4"/><circle cx="1332.0" cy="611.3" r="8.4"/><circle cx="1322.7" cy="613.3" r="8.4"/><circle cx="1316.0" cy="628.7" r="8.4"/><circle cx="1314.7" cy="640.7" r="8.4"/><circle cx="1462.0" cy="540.7" r="8.4"/><circle cx="1493.3" cy="552.7" r="8.4"/><circle cx="1484.7" cy="564.7" r="8.4"/><circle cx="1474.7" cy="575.3" r="8.4"/><circle cx="1477.3" cy="587.3" r="8.4"/><circle cx="1473.3" cy="596.7" r="8.4"/><circle cx="1503.3" cy="578.0" r="8.4"/><circle cx="1520.0" cy="583.3" r="8.4"/><circle cx="1500.0" cy="626.0" r="8.4"/><circle cx="1510.7" cy="614.0" r="8.4"/><circle cx="1536.7" cy="638.7" r="8.4"/><circle cx="1518.7" cy="644.0" r="8.4"/><circle cx="1485.3" cy="646.0" r="8.4"/><circle cx="1566.7" cy="649.7" r="8.4"/><circle cx="1366.7" cy="654.0" r="8.4"/><circle cx="1381.3" cy="652.7" r="8.4"/><circle cx="1417.3" cy="654.0" r="8.4"/><circle cx="1420.0" cy="662.0" r="8.4"/><circle cx="1453.3" cy="662.0" r="8.4"/><circle cx="1477.3" cy="664.0" r="8.4"/><circle cx="1486.7" cy="655.3" r="8.4"/><circle cx="1544.0" cy="663.3" r="8.4"/><circle cx="1318.4" cy="687.1" r="8.4"/><circle cx="1402.0" cy="685.3" r="8.4"/><circle cx="1417.3" cy="694.0" r="8.4"/><circle cx="1526.7" cy="676.7" r="8.4"/><circle cx="1556.0" cy="687.3" r="8.4"/><circle cx="1567.3" cy="678.0" r="8.4"/><circle cx="1549.3" cy="703.3" r="8.4"/><circle cx="1385.3" cy="696.7" r="8.4"/><circle cx="1352.0" cy="708.7" r="8.4"/><circle cx="1496.0" cy="703.3" r="8.4"/><circle cx="1508.0" cy="722.0" r="8.4"/><circle cx="1534.7" cy="724.7" r="8.4"/><circle cx="1561.3" cy="724.0" r="8.4"/><circle cx="1313.3" cy="726.0" r="8.4"/><circle cx="1357.3" cy="731.3" r="8.4"/><circle cx="1372.0" cy="735.3" r="8.4"/><circle cx="1360.0" cy="739.3" r="8.4"/><circle cx="1401.3" cy="750.7" r="8.4"/><circle cx="1509.3" cy="746.7" r="8.4"/><circle cx="1518.7" cy="730.0" r="8.4"/><circle cx="1521.3" cy="740.7" r="8.4"/><circle cx="1548.0" cy="744.7" r="8.4"/><circle cx="1572.0" cy="750.0" r="8.4"/><circle cx="1560.0" cy="756.7" r="8.4"/><circle cx="1410.0" cy="767.3" r="8.4"/><circle cx="1434.7" cy="775.3" r="8.4"/><circle cx="1436.0" cy="756.7" r="8.4"/><circle cx="1446.7" cy="763.3" r="8.4"/><circle cx="1529.3" cy="779.3" r="8.4"/><circle cx="1540.0" cy="775.3" r="8.4"/><circle cx="1560.0" cy="764.7" r="8.4"/><circle cx="1566.7" cy="775.3" r="8.4"/><circle cx="1329.3" cy="778.0" r="8.4"/><circle cx="1332.7" cy="794.0" r="8.4"/><circle cx="1366.7" cy="798.0" r="8.4"/><circle cx="1413.3" cy="790.0" r="8.4"/><circle cx="1513.3" cy="787.3" r="8.4"/><circle cx="1532.0" cy="799.3" r="8.4"/><circle cx="1550.7" cy="803.3" r="8.4"/><circle cx="1322.7" cy="815.3" r="8.4"/><circle cx="1369.3" cy="822.0" r="8.4"/><circle cx="1382.7" cy="820.7" r="8.4"/><circle cx="1413.1" cy="812.7" r="8.4"/><circle cx="1434.7" cy="812.0" r="8.4"/><circle cx="1477.3" cy="808.7" r="8.4"/><circle cx="1553.3" cy="827.3" r="8.4"/><circle cx="1534.7" cy="847.3" r="8.4"/><circle cx="1572.0" cy="846.0" r="8.4"/><circle cx="1550.7" cy="848.9" r="8.4"/><circle cx="1694.7" cy="581.3" r="8.4"/><circle cx="1676.0" cy="594.0" r="8.4"/><circle cx="1640.0" cy="614.7" r="8.4"/><circle cx="1703.3" cy="608.7" r="8.4"/><circle cx="1684.0" cy="618.0" r="8.4"/><circle cx="1671.3" cy="639.1" r="8.4"/><circle cx="1591.7" cy="662.7" r="8.4"/><circle cx="1606.7" cy="678.0" r="8.4"/><circle cx="1614.7" cy="680.0" r="8.4"/><circle cx="1610.0" cy="716.0" r="8.4"/><circle cx="1615.3" cy="733.3" r="8.4"/><circle cx="1639.3" cy="736.0" r="8.4"/><circle cx="1596.0" cy="740.7" r="8.4"/><circle cx="1628.0" cy="742.0" r="8.4"/><circle cx="1616.7" cy="748.7" r="8.4"/><circle cx="1600.0" cy="758.0" r="8.4"/><circle cx="1632.0" cy="769.3" r="8.4"/><circle cx="1649.3" cy="765.3" r="8.4"/><circle cx="1601.3" cy="790.0" r="8.4"/><circle cx="1612.0" cy="787.3" r="8.4"/><circle cx="1649.3" cy="787.3" r="8.4"/><circle cx="1673.3" cy="778.0" r="8.4"/><circle cx="1693.3" cy="777.3" r="8.4"/><circle cx="1693.3" cy="783.3" r="8.4"/><circle cx="1678.7" cy="800.7" r="8.4"/><circle cx="1668.0" cy="801.3" r="8.4"/><circle cx="1652.0" cy="802.0" r="8.4"/><circle cx="1640.7" cy="806.7" r="8.4"/><circle cx="1612.4" cy="806.3" r="8.4"/><circle cx="1600.0" cy="815.3" r="8.4"/><circle cx="1581.3" cy="806.0" r="8.4"/><circle cx="1576.0" cy="750.0" r="8.4"/><circle cx="1580.0" cy="757.0" r="8.4"/><circle cx="1572.0" cy="762.0" r="8.4"/><circle cx="1568.0" cy="766.0" r="8.4"/><circle cx="1610.0" cy="782.0" r="8.4"/><circle cx="1608.0" cy="790.0" r="8.4"/><circle cx="1616.0" cy="772.0" r="8.4"/><circle cx="1670.0" cy="780.0" r="8.4"/><circle cx="1550.0" cy="828.0" r="8.4"/><circle cx="1054.7" cy="666.0" r="8.4"/><circle cx="1064.0" cy="663.3" r="8.4"/><circle cx="1060.0" cy="672.7" r="8.4"/><circle cx="1078.7" cy="672.7" r="8.4"/><circle cx="1082.7" cy="664.7" r="8.4"/><circle cx="1064.0" cy="682.0" r="8.4"/><circle cx="1077.3" cy="679.3" r="8.4"/><circle cx="1086.7" cy="676.7" r="8.4"/></g>
<g fill="#5F187F"><circle cx="593.3" cy="876.7" r="8.4"/><circle cx="562.0" cy="894.0" r="8.4"/><circle cx="537.3" cy="907.3" r="8.4"/><circle cx="541.3" cy="914.0" r="8.4"/><circle cx="549.3" cy="918.0" r="8.4"/><circle cx="560.0" cy="925.3" r="8.4"/><circle cx="566.7" cy="935.3" r="8.4"/><circle cx="576.0" cy="929.3" r="8.4"/><circle cx="594.7" cy="928.0" r="8.4"/><circle cx="575.3" cy="957.3" r="8.4"/><circle cx="536.0" cy="976.7" r="8.4"/><circle cx="569.3" cy="989.3" r="8.4"/><circle cx="565.3" cy="994.0" r="8.4"/><circle cx="586.7" cy="1015.3" r="8.4"/><circle cx="550.7" cy="1024.7" r="8.4"/><circle cx="538.0" cy="1045.3" r="8.4"/><circle cx="493.3" cy="1040.0" r="8.4"/><circle cx="505.3" cy="1036.0" r="8.4"/><circle cx="594.7" cy="1028.7" r="8.4"/><circle cx="590.7" cy="1042.0" r="8.4"/><circle cx="482.0" cy="930.9" r="8.4"/><circle cx="490.7" cy="998.0" r="8.4"/><circle cx="482.0" cy="998.0" r="8.4"/><circle cx="467.6" cy="1005.3" r="8.4"/><circle cx="482.9" cy="1013.3" r="8.4"/><circle cx="470.0" cy="1024.3" r="8.4"/><circle cx="435.3" cy="952.0" r="8.4"/><circle cx="431.3" cy="961.3" r="8.4"/><circle cx="422.3" cy="979.6" r="8.4"/><circle cx="433.3" cy="1024.7" r="8.4"/><circle cx="422.0" cy="1031.3" r="8.4"/><circle cx="364.0" cy="1023.3" r="8.4"/><circle cx="385.3" cy="1040.0" r="8.4"/><circle cx="350.7" cy="1046.0" r="8.4"/><circle cx="423.6" cy="1083.3" r="8.4"/><circle cx="430.7" cy="1076.7" r="8.4"/><circle cx="478.4" cy="1066.0" r="8.4"/><circle cx="492.0" cy="1075.3" r="8.4"/><circle cx="518.7" cy="1072.7" r="8.4"/><circle cx="501.3" cy="1089.3" r="8.4"/><circle cx="540.7" cy="1068.0" r="8.4"/><circle cx="596.7" cy="1056.7" r="8.4"/><circle cx="545.3" cy="1095.3" r="8.4"/><circle cx="562.7" cy="1104.7" r="8.4"/><circle cx="518.7" cy="1106.0" r="8.4"/><circle cx="500.7" cy="1117.3" r="8.4"/><circle cx="460.0" cy="1115.3" r="8.4"/><circle cx="574.4" cy="504.0" r="8.4"/><circle cx="604.7" cy="504.0" r="8.4"/><circle cx="583.3" cy="537.3" r="8.4"/><circle cx="629.3" cy="546.0" r="8.4"/><circle cx="585.3" cy="554.7" r="8.4"/><circle cx="573.3" cy="562.0" r="8.4"/><circle cx="577.3" cy="564.7" r="8.4"/><circle cx="615.3" cy="559.3" r="8.4"/><circle cx="630.7" cy="558.0" r="8.4"/><circle cx="636.0" cy="563.3" r="8.4"/><circle cx="626.7" cy="586.3" r="8.4"/><circle cx="570.7" cy="587.3" r="8.4"/><circle cx="641.3" cy="609.1" r="8.4"/><circle cx="661.3" cy="584.7" r="8.4"/><circle cx="674.7" cy="581.3" r="8.4"/><circle cx="676.0" cy="586.0" r="8.4"/><circle cx="686.7" cy="571.3" r="8.4"/><circle cx="706.0" cy="578.0" r="8.4"/><circle cx="688.3" cy="615.1" r="8.4"/><circle cx="637.3" cy="498.7" r="8.4"/><circle cx="636.7" cy="506.0" r="8.4"/><circle cx="661.3" cy="485.3" r="8.4"/><circle cx="670.7" cy="494.0" r="8.4"/><circle cx="676.0" cy="486.0" r="8.4"/><circle cx="690.7" cy="475.3" r="8.4"/><circle cx="714.9" cy="504.7" r="8.4"/><circle cx="709.3" cy="511.3" r="8.4"/><circle cx="728.7" cy="516.0" r="8.4"/><circle cx="736.0" cy="519.3" r="8.4"/><circle cx="657.3" cy="540.7" r="8.4"/><circle cx="738.7" cy="563.3" r="8.4"/><circle cx="630.7" cy="663.3" r="8.4"/><circle cx="672.7" cy="679.3" r="8.4"/><circle cx="864.7" cy="301.3" r="8.4"/><circle cx="829.3" cy="314.7" r="8.4"/><circle cx="850.7" cy="326.0" r="8.4"/><circle cx="852.0" cy="336.7" r="8.4"/><circle cx="851.3" cy="346.7" r="8.4"/><circle cx="872.7" cy="349.3" r="8.4"/><circle cx="873.3" cy="358.0" r="8.4"/><circle cx="810.0" cy="356.3" r="8.4"/><circle cx="828.7" cy="355.6" r="8.4"/><circle cx="784.7" cy="370.7" r="8.4"/><circle cx="775.7" cy="392.9" r="8.4"/><circle cx="853.3" cy="382.7" r="8.4"/><circle cx="859.3" cy="383.3" r="8.4"/><circle cx="723.3" cy="436.0" r="8.4"/><circle cx="710.0" cy="444.0" r="8.4"/><circle cx="604.0" cy="868.0" r="8.4"/><circle cx="625.1" cy="874.7" r="8.4"/><circle cx="602.7" cy="886.7" r="8.4"/><circle cx="640.7" cy="884.9" r="8.4"/><circle cx="608.0" cy="926.0" r="8.4"/><circle cx="618.0" cy="944.0" r="8.4"/><circle cx="707.3" cy="907.3" r="8.4"/><circle cx="720.0" cy="904.4" r="8.4"/><circle cx="744.4" cy="952.9" r="8.4"/><circle cx="731.3" cy="978.0" r="8.4"/><circle cx="698.3" cy="974.0" r="8.4"/><circle cx="690.7" cy="1002.3" r="8.4"/><circle cx="852.7" cy="878.7" r="8.4"/><circle cx="857.3" cy="884.7" r="8.4"/><circle cx="784.7" cy="920.4" r="8.4"/><circle cx="799.3" cy="934.4" r="8.4"/><circle cx="865.3" cy="919.3" r="8.4"/><circle cx="872.0" cy="918.0" r="8.4"/><circle cx="836.9" cy="940.9" r="8.4"/><circle cx="863.3" cy="1002.7" r="8.4"/><circle cx="860.0" cy="1006.7" r="8.4"/><circle cx="753.3" cy="496.0" r="8.4"/><circle cx="914.7" cy="462.7" r="8.4"/><circle cx="946.7" cy="463.3" r="8.4"/><circle cx="1009.3" cy="452.7" r="8.4"/><circle cx="981.3" cy="477.3" r="8.4"/><circle cx="1019.3" cy="479.3" r="8.4"/><circle cx="934.0" cy="478.7" r="8.4"/><circle cx="914.7" cy="486.7" r="8.4"/><circle cx="960.0" cy="484.0" r="8.4"/><circle cx="965.3" cy="496.7" r="8.4"/><circle cx="952.7" cy="503.3" r="8.4"/><circle cx="919.3" cy="514.7" r="8.4"/><circle cx="934.4" cy="523.3" r="8.4"/><circle cx="921.3" cy="532.0" r="8.4"/><circle cx="965.3" cy="524.7" r="8.4"/><circle cx="999.3" cy="525.3" r="8.4"/><circle cx="950.0" cy="556.7" r="8.4"/><circle cx="925.6" cy="568.0" r="8.4"/><circle cx="944.7" cy="584.7" r="8.4"/><circle cx="991.3" cy="596.7" r="8.4"/><circle cx="998.7" cy="603.3" r="8.4"/><circle cx="996.0" cy="610.0" r="8.4"/><circle cx="1002.7" cy="628.7" r="8.4"/><circle cx="818.7" cy="596.3" r="8.4"/><circle cx="841.1" cy="592.0" r="8.4"/><circle cx="787.6" cy="576.4" r="8.4"/><circle cx="773.3" cy="620.7" r="8.4"/><circle cx="794.0" cy="631.3" r="8.4"/><circle cx="781.3" cy="635.3" r="8.4"/><circle cx="762.0" cy="634.0" r="8.4"/><circle cx="777.3" cy="642.0" r="8.4"/><circle cx="845.7" cy="641.6" r="8.4"/><circle cx="868.7" cy="645.3" r="8.4"/><circle cx="750.0" cy="559.3" r="8.4"/><circle cx="753.3" cy="528.0" r="8.4"/><circle cx="765.3" cy="518.0" r="8.4"/><circle cx="835.7" cy="514.7" r="8.4"/><circle cx="826.7" cy="522.7" r="8.4"/><circle cx="809.3" cy="538.7" r="8.4"/><circle cx="812.0" cy="552.0" r="8.4"/><circle cx="832.0" cy="657.3" r="8.4"/><circle cx="830.7" cy="664.7" r="8.4"/><circle cx="822.0" cy="670.0" r="8.4"/><circle cx="872.0" cy="664.4" r="8.4"/><circle cx="846.7" cy="698.7" r="8.4"/><circle cx="845.3" cy="703.3" r="8.4"/><circle cx="815.6" cy="706.9" r="8.4"/><circle cx="760.0" cy="730.0" r="8.4"/><circle cx="746.7" cy="749.3" r="8.4"/><circle cx="760.0" cy="754.7" r="8.4"/><circle cx="782.0" cy="767.3" r="8.4"/><circle cx="771.6" cy="831.1" r="8.4"/><circle cx="806.3" cy="788.0" r="8.4"/><circle cx="825.3" cy="751.3" r="8.4"/><circle cx="812.7" cy="761.3" r="8.4"/><circle cx="828.7" cy="770.0" r="8.4"/><circle cx="814.7" cy="770.0" r="8.4"/><circle cx="846.7" cy="796.7" r="8.4"/><circle cx="838.0" cy="802.7" r="8.4"/><circle cx="820.0" cy="814.0" r="8.4"/><circle cx="830.7" cy="816.7" r="8.4"/><circle cx="838.7" cy="815.3" r="8.4"/><circle cx="821.6" cy="836.3" r="8.4"/><circle cx="884.7" cy="772.0" r="8.4"/><circle cx="901.6" cy="769.1" r="8.4"/><circle cx="861.3" cy="786.7" r="8.4"/><circle cx="864.7" cy="840.4" r="8.4"/><circle cx="896.7" cy="849.7" r="8.4"/><circle cx="919.6" cy="698.4" r="8.4"/><circle cx="900.0" cy="736.7" r="8.4"/><circle cx="942.9" cy="746.3" r="8.4"/><circle cx="916.0" cy="767.3" r="8.4"/><circle cx="932.0" cy="774.7" r="8.4"/><circle cx="930.7" cy="792.7" r="8.4"/><circle cx="928.0" cy="798.0" r="8.4"/><circle cx="948.0" cy="799.3" r="8.4"/><circle cx="926.7" cy="814.0" r="8.4"/><circle cx="955.3" cy="820.3" r="8.4"/><circle cx="892.0" cy="276.0" r="8.4"/><circle cx="908.7" cy="282.0" r="8.4"/><circle cx="924.7" cy="288.0" r="8.4"/><circle cx="885.3" cy="288.7" r="8.4"/><circle cx="882.7" cy="295.3" r="8.4"/><circle cx="899.3" cy="304.0" r="8.4"/><circle cx="912.7" cy="311.3" r="8.4"/><circle cx="942.4" cy="306.0" r="8.4"/><circle cx="969.1" cy="308.0" r="8.4"/><circle cx="998.4" cy="318.9" r="8.4"/><circle cx="908.7" cy="320.7" r="8.4"/><circle cx="910.7" cy="325.3" r="8.4"/><circle cx="886.0" cy="331.3" r="8.4"/><circle cx="882.7" cy="339.3" r="8.4"/><circle cx="898.0" cy="335.3" r="8.4"/><circle cx="914.4" cy="342.0" r="8.4"/><circle cx="936.0" cy="356.7" r="8.4"/><circle cx="922.7" cy="368.7" r="8.4"/><circle cx="939.3" cy="370.7" r="8.4"/><circle cx="918.7" cy="371.3" r="8.4"/><circle cx="887.3" cy="382.0" r="8.4"/><circle cx="950.0" cy="383.3" r="8.4"/><circle cx="948.0" cy="391.3" r="8.4"/><circle cx="986.7" cy="416.7" r="8.4"/><circle cx="894.7" cy="396.7" r="8.4"/><circle cx="888.0" cy="411.3" r="8.4"/><circle cx="933.3" cy="432.7" r="8.4"/><circle cx="996.0" cy="381.3" r="8.4"/><circle cx="1020.0" cy="382.0" r="8.4"/><circle cx="1000.7" cy="392.7" r="8.4"/><circle cx="1011.3" cy="394.0" r="8.4"/><circle cx="992.0" cy="402.0" r="8.4"/><circle cx="1006.7" cy="403.3" r="8.4"/><circle cx="1008.0" cy="410.0" r="8.4"/><circle cx="1005.3" cy="419.3" r="8.4"/><circle cx="1034.0" cy="377.3" r="8.4"/><circle cx="1064.7" cy="371.3" r="8.4"/><circle cx="1076.0" cy="375.3" r="8.4"/><circle cx="1035.3" cy="360.0" r="8.4"/><circle cx="1078.7" cy="351.3" r="8.4"/><circle cx="1060.7" cy="316.7" r="8.4"/><circle cx="1115.3" cy="341.3" r="8.4"/><circle cx="1112.0" cy="352.7" r="8.4"/><circle cx="1144.7" cy="360.7" r="8.4"/><circle cx="1128.0" cy="409.3" r="8.4"/><circle cx="1061.3" cy="422.0" r="8.4"/><circle cx="1028.7" cy="440.7" r="8.4"/><circle cx="1038.7" cy="440.7" r="8.4"/><circle cx="1049.3" cy="436.7" r="8.4"/><circle cx="1058.7" cy="442.0" r="8.4"/><circle cx="1069.3" cy="442.0" r="8.4"/><circle cx="1050.7" cy="447.3" r="8.4"/><circle cx="937.7" cy="885.7" r="8.4"/><circle cx="900.3" cy="900.7" r="8.4"/><circle cx="978.3" cy="874.7" r="8.4"/><circle cx="996.3" cy="905.7" r="8.4"/><circle cx="1035.7" cy="916.3" r="8.4"/><circle cx="1072.7" cy="919.1" r="8.4"/><circle cx="1023.3" cy="952.7" r="8.4"/><circle cx="1084.0" cy="963.3" r="8.4"/><circle cx="1027.3" cy="987.3" r="8.4"/><circle cx="1016.0" cy="1000.7" r="8.4"/><circle cx="1022.7" cy="1008.7" r="8.4"/><circle cx="1031.3" cy="1014.7" r="8.4"/><circle cx="907.6" cy="963.3" r="8.4"/><circle cx="934.0" cy="979.3" r="8.4"/><circle cx="924.0" cy="984.7" r="8.4"/><circle cx="916.0" cy="990.0" r="8.4"/><circle cx="906.7" cy="996.0" r="8.4"/><circle cx="882.7" cy="1008.0" r="8.4"/><circle cx="880.7" cy="1014.0" r="8.4"/><circle cx="931.1" cy="1033.7" r="8.4"/><circle cx="961.3" cy="1008.7" r="8.4"/><circle cx="963.3" cy="1072.7" r="8.4"/><circle cx="970.7" cy="1062.7" r="8.4"/><circle cx="997.3" cy="1116.0" r="8.4"/><circle cx="1005.3" cy="1115.3" r="8.4"/><circle cx="1020.0" cy="1122.0" r="8.4"/><circle cx="1002.7" cy="1126.0" r="8.4"/><circle cx="999.3" cy="1134.0" r="8.4"/><circle cx="1062.0" cy="1138.0" r="8.4"/><circle cx="1053.3" cy="1152.7" r="8.4"/><circle cx="1042.0" cy="1163.3" r="8.4"/><circle cx="1029.3" cy="1168.0" r="8.4"/><circle cx="1033.3" cy="1168.7" r="8.4"/><circle cx="1032.7" cy="454.7" r="8.4"/><circle cx="1064.7" cy="470.0" r="8.4"/><circle cx="1081.3" cy="456.7" r="8.4"/><circle cx="1114.7" cy="456.7" r="8.4"/><circle cx="1108.7" cy="475.3" r="8.4"/><circle cx="1055.3" cy="486.7" r="8.4"/><circle cx="1044.0" cy="506.0" r="8.4"/><circle cx="1043.3" cy="510.7" r="8.4"/><circle cx="1120.0" cy="492.7" r="8.4"/><circle cx="1146.0" cy="510.7" r="8.4"/><circle cx="1085.6" cy="514.0" r="8.4"/><circle cx="1066.0" cy="527.3" r="8.4"/><circle cx="1066.0" cy="536.0" r="8.4"/><circle cx="1086.0" cy="528.7" r="8.4"/><circle cx="1089.3" cy="534.0" r="8.4"/><circle cx="1130.7" cy="536.9" r="8.4"/><circle cx="1115.3" cy="540.7" r="8.4"/><circle cx="1118.7" cy="548.7" r="8.4"/><circle cx="1113.3" cy="555.3" r="8.4"/><circle cx="1058.0" cy="553.3" r="8.4"/><circle cx="1069.3" cy="565.3" r="8.4"/><circle cx="1049.3" cy="574.7" r="8.4"/><circle cx="1024.7" cy="593.3" r="8.4"/><circle cx="1076.0" cy="572.7" r="8.4"/><circle cx="1082.7" cy="576.7" r="8.4"/><circle cx="1082.7" cy="584.7" r="8.4"/><circle cx="1106.7" cy="588.7" r="8.4"/><circle cx="1106.7" cy="610.0" r="8.4"/><circle cx="1094.7" cy="614.0" r="8.4"/><circle cx="1084.7" cy="624.7" r="8.4"/><circle cx="1132.7" cy="634.4" r="8.4"/><circle cx="1182.0" cy="614.0" r="8.4"/><circle cx="1170.0" cy="643.3" r="8.4"/><circle cx="1191.3" cy="470.0" r="8.4"/><circle cx="1189.3" cy="478.0" r="8.4"/><circle cx="1206.0" cy="474.0" r="8.4"/><circle cx="1209.3" cy="458.7" r="8.4"/><circle cx="1222.9" cy="474.7" r="8.4"/><circle cx="1237.1" cy="570.7" r="8.4"/><circle cx="1252.0" cy="620.7" r="8.4"/><circle cx="1264.0" cy="614.3" r="8.4"/><circle cx="1266.0" cy="594.7" r="8.4"/><circle cx="1292.0" cy="590.7" r="8.4"/><circle cx="1263.3" cy="648.7" r="8.4"/><circle cx="1289.3" cy="459.3" r="8.4"/><circle cx="1299.3" cy="476.7" r="8.4"/><circle cx="1134.3" cy="672.0" r="8.4"/><circle cx="1191.6" cy="724.4" r="8.4"/><circle cx="1275.3" cy="691.3" r="8.4"/><circle cx="1266.0" cy="702.9" r="8.4"/><circle cx="1221.3" cy="718.7" r="8.4"/><circle cx="1264.0" cy="747.3" r="8.4"/><circle cx="1274.7" cy="754.0" r="8.4"/><circle cx="1286.7" cy="772.0" r="8.4"/><circle cx="1158.7" cy="818.3" r="8.4"/><circle cx="1130.7" cy="806.7" r="8.4"/><circle cx="1102.3" cy="803.7" r="8.4"/><circle cx="1112.7" cy="818.0" r="8.4"/><circle cx="1084.7" cy="812.4" r="8.4"/><circle cx="1036.7" cy="804.7" r="8.4"/><circle cx="1175.7" cy="840.4" r="8.4"/><circle cx="1199.3" cy="795.3" r="8.4"/><circle cx="1180.0" cy="365.3" r="8.4"/><circle cx="1181.3" cy="382.7" r="8.4"/><circle cx="1215.3" cy="375.3" r="8.4"/><circle cx="1214.0" cy="385.3" r="8.4"/><circle cx="1214.0" cy="395.3" r="8.4"/><circle cx="1214.0" cy="400.7" r="8.4"/><circle cx="1179.7" cy="432.0" r="8.4"/><circle cx="1195.3" cy="434.0" r="8.4"/><circle cx="1206.7" cy="447.3" r="8.4"/><circle cx="1258.3" cy="419.6" r="8.4"/><circle cx="1274.0" cy="416.7" r="8.4"/><circle cx="1167.3" cy="941.7" r="8.4"/><circle cx="1280.7" cy="912.0" r="8.4"/><circle cx="1268.0" cy="860.7" r="8.4"/><circle cx="1281.3" cy="868.7" r="8.4"/><circle cx="1332.0" cy="870.0" r="8.4"/><circle cx="1343.3" cy="880.7" r="8.4"/><circle cx="1350.7" cy="873.3" r="8.4"/><circle cx="1368.0" cy="863.3" r="8.4"/><circle cx="1373.3" cy="866.0" r="8.4"/><circle cx="1381.3" cy="880.7" r="8.4"/><circle cx="1396.0" cy="879.3" r="8.4"/><circle cx="1426.7" cy="859.3" r="8.4"/><circle cx="1335.3" cy="1028.4" r="8.4"/><circle cx="1313.3" cy="1043.3" r="8.4"/><circle cx="1354.7" cy="1040.0" r="8.4"/><circle cx="1275.3" cy="1124.0" r="8.4"/><circle cx="1299.7" cy="1154.4" r="8.4"/><circle cx="1277.3" cy="1163.3" r="8.4"/><circle cx="1270.7" cy="1170.0" r="8.4"/><circle cx="1286.7" cy="1175.3" r="8.4"/><circle cx="1285.3" cy="1180.0" r="8.4"/><circle cx="1331.3" cy="1068.0" r="8.4"/><circle cx="1294.7" cy="1052.7" r="8.4"/><circle cx="1306.7" cy="1051.3" r="8.4"/><circle cx="1318.7" cy="1056.7" r="8.4"/><circle cx="1346.7" cy="1050.0" r="8.4"/><circle cx="1317.3" cy="454.0" r="8.4"/><circle cx="1318.7" cy="475.3" r="8.4"/><circle cx="1346.9" cy="504.7" r="8.4"/><circle cx="1372.9" cy="565.7" r="8.4"/><circle cx="1410.0" cy="605.3" r="8.4"/><circle cx="1433.3" cy="601.3" r="8.4"/><circle cx="1445.3" cy="602.0" r="8.4"/><circle cx="1458.0" cy="618.7" r="8.4"/><circle cx="1421.6" cy="636.0" r="8.4"/><circle cx="1381.6" cy="616.4" r="8.4"/><circle cx="1370.0" cy="642.0" r="8.4"/><circle cx="1466.7" cy="649.3" r="8.4"/><circle cx="1302.7" cy="574.0" r="8.4"/><circle cx="1311.3" cy="589.3" r="8.4"/><circle cx="1302.7" cy="595.3" r="8.4"/><circle cx="1338.0" cy="604.7" r="8.4"/><circle cx="1486.0" cy="549.3" r="8.4"/><circle cx="1470.7" cy="558.0" r="8.4"/><circle cx="1452.4" cy="565.7" r="8.4"/><circle cx="1462.0" cy="574.0" r="8.4"/><circle cx="1467.3" cy="578.0" r="8.4"/><circle cx="1516.0" cy="584.7" r="8.4"/><circle cx="1490.0" cy="602.0" r="8.4"/><circle cx="1492.0" cy="612.7" r="8.4"/><circle cx="1472.0" cy="622.7" r="8.4"/><circle cx="1492.0" cy="631.3" r="8.4"/><circle cx="1385.3" cy="667.3" r="8.4"/><circle cx="1362.0" cy="666.0" r="8.4"/><circle cx="1353.3" cy="671.3" r="8.4"/><circle cx="1346.7" cy="674.7" r="8.4"/><circle cx="1426.0" cy="663.3" r="8.4"/><circle cx="1441.3" cy="655.3" r="8.4"/><circle cx="1456.0" cy="652.7" r="8.4"/><circle cx="1509.3" cy="654.0" r="8.4"/><circle cx="1532.0" cy="668.7" r="8.4"/><circle cx="1358.7" cy="678.0" r="8.4"/><circle cx="1366.7" cy="684.7" r="8.4"/><circle cx="1368.7" cy="695.3" r="8.4"/><circle cx="1508.0" cy="694.0" r="8.4"/><circle cx="1522.0" cy="699.3" r="8.4"/><circle cx="1530.7" cy="682.0" r="8.4"/><circle cx="1544.0" cy="675.3" r="8.4"/><circle cx="1544.0" cy="695.3" r="8.4"/><circle cx="1555.3" cy="696.0" r="8.4"/><circle cx="1455.3" cy="702.0" r="8.4"/><circle cx="1418.7" cy="715.3" r="8.4"/><circle cx="1369.3" cy="718.0" r="8.4"/><circle cx="1464.7" cy="722.7" r="8.4"/><circle cx="1512.0" cy="703.3" r="8.4"/><circle cx="1567.3" cy="709.3" r="8.4"/><circle cx="1340.0" cy="751.3" r="8.4"/><circle cx="1392.0" cy="728.7" r="8.4"/><circle cx="1412.0" cy="742.0" r="8.4"/><circle cx="1428.0" cy="740.7" r="8.4"/><circle cx="1453.3" cy="745.3" r="8.4"/><circle cx="1468.0" cy="756.7" r="8.4"/><circle cx="1485.3" cy="730.0" r="8.4"/><circle cx="1497.3" cy="734.0" r="8.4"/><circle cx="1500.7" cy="750.7" r="8.4"/><circle cx="1553.3" cy="739.3" r="8.4"/><circle cx="1579.3" cy="735.3" r="8.4"/><circle cx="1308.7" cy="756.7" r="8.4"/><circle cx="1354.7" cy="768.0" r="8.4"/><circle cx="1362.7" cy="775.3" r="8.4"/><circle cx="1402.7" cy="774.7" r="8.4"/><circle cx="1490.7" cy="774.0" r="8.4"/><circle cx="1498.0" cy="771.3" r="8.4"/><circle cx="1514.7" cy="773.3" r="8.4"/><circle cx="1389.3" cy="792.0" r="8.4"/><circle cx="1486.7" cy="780.7" r="8.4"/><circle cx="1504.0" cy="783.3" r="8.4"/><circle cx="1486.7" cy="788.7" r="8.4"/><circle cx="1476.7" cy="797.3" r="8.4"/><circle cx="1570.7" cy="791.3" r="8.4"/><circle cx="1540.0" cy="804.7" r="8.4"/><circle cx="1562.7" cy="807.3" r="8.4"/><circle cx="1324.0" cy="806.7" r="8.4"/><circle cx="1438.0" cy="830.0" r="8.4"/><circle cx="1501.3" cy="821.3" r="8.4"/><circle cx="1529.3" cy="827.3" r="8.4"/><circle cx="1556.0" cy="818.0" r="8.4"/><circle cx="1356.7" cy="836.0" r="8.4"/><circle cx="1385.3" cy="840.0" r="8.4"/><circle cx="1422.7" cy="843.3" r="8.4"/><circle cx="1478.7" cy="834.0" r="8.4"/><circle cx="1652.0" cy="568.7" r="8.4"/><circle cx="1679.3" cy="578.0" r="8.4"/><circle cx="1666.7" cy="596.0" r="8.4"/><circle cx="1651.3" cy="607.3" r="8.4"/><circle cx="1700.0" cy="614.7" r="8.4"/><circle cx="1692.0" cy="626.0" r="8.4"/><circle cx="1666.0" cy="626.0" r="8.4"/><circle cx="1621.1" cy="687.3" r="8.4"/><circle cx="1612.0" cy="694.0" r="8.4"/><circle cx="1590.4" cy="702.7" r="8.4"/><circle cx="1599.7" cy="721.3" r="8.4"/><circle cx="1592.0" cy="730.0" r="8.4"/><circle cx="1627.3" cy="728.0" r="8.4"/><circle cx="1602.0" cy="750.0" r="8.4"/><circle cx="1668.3" cy="757.3" r="8.4"/><circle cx="1600.0" cy="768.7" r="8.4"/><circle cx="1604.7" cy="771.3" r="8.4"/><circle cx="1646.7" cy="776.0" r="8.4"/><circle cx="1593.3" cy="787.3" r="8.4"/><circle cx="1588.0" cy="794.0" r="8.4"/><circle cx="1622.7" cy="790.7" r="8.4"/><circle cx="1637.6" cy="799.1" r="8.4"/><circle cx="1655.3" cy="794.0" r="8.4"/><circle cx="1664.7" cy="796.0" r="8.4"/><circle cx="1682.7" cy="774.0" r="8.4"/><circle cx="1678.7" cy="780.0" r="8.4"/></g>
<g fill="#A5317E"><circle cx="583.7" cy="939.6" r="8.4"/><circle cx="577.3" cy="954.0" r="8.4"/><circle cx="594.0" cy="962.7" r="8.4"/><circle cx="554.0" cy="973.3" r="8.4"/><circle cx="555.3" cy="986.7" r="8.4"/><circle cx="576.7" cy="1017.6" r="8.4"/><circle cx="545.3" cy="1023.3" r="8.4"/><circle cx="537.3" cy="1029.3" r="8.4"/><circle cx="509.3" cy="1040.0" r="8.4"/><circle cx="500.3" cy="980.4" r="8.4"/><circle cx="516.0" cy="979.3" r="8.4"/><circle cx="477.3" cy="992.0" r="8.4"/><circle cx="463.3" cy="956.0" r="8.4"/><circle cx="456.0" cy="968.0" r="8.4"/><circle cx="446.7" cy="999.6" r="8.4"/><circle cx="368.9" cy="1029.7" r="8.4"/><circle cx="344.0" cy="1044.3" r="8.4"/><circle cx="415.1" cy="1063.1" r="8.4"/><circle cx="459.3" cy="1083.3" r="8.4"/><circle cx="457.3" cy="1089.3" r="8.4"/><circle cx="490.7" cy="1060.0" r="8.4"/><circle cx="501.3" cy="1057.3" r="8.4"/><circle cx="521.6" cy="1058.7" r="8.4"/><circle cx="511.3" cy="1084.7" r="8.4"/><circle cx="570.0" cy="1063.3" r="8.4"/><circle cx="555.3" cy="1084.0" r="8.4"/><circle cx="553.3" cy="1094.0" r="8.4"/><circle cx="537.3" cy="1110.0" r="8.4"/><circle cx="560.0" cy="1103.3" r="8.4"/><circle cx="554.7" cy="1112.7" r="8.4"/><circle cx="510.0" cy="1108.7" r="8.4"/><circle cx="520.7" cy="1109.3" r="8.4"/><circle cx="510.7" cy="1112.0" r="8.4"/><circle cx="577.1" cy="510.0" r="8.4"/><circle cx="589.1" cy="506.7" r="8.4"/><circle cx="604.7" cy="512.7" r="8.4"/><circle cx="592.9" cy="526.3" r="8.4"/><circle cx="609.3" cy="526.0" r="8.4"/><circle cx="574.4" cy="540.0" r="8.4"/><circle cx="587.7" cy="564.7" r="8.4"/><circle cx="604.0" cy="561.3" r="8.4"/><circle cx="627.7" cy="570.0" r="8.4"/><circle cx="582.7" cy="585.3" r="8.4"/><circle cx="580.0" cy="591.3" r="8.4"/><circle cx="588.0" cy="604.7" r="8.4"/><circle cx="590.0" cy="609.3" r="8.4"/><circle cx="580.7" cy="614.0" r="8.4"/><circle cx="582.7" cy="629.3" r="8.4"/><circle cx="588.0" cy="636.7" r="8.4"/><circle cx="691.3" cy="580.0" r="8.4"/><circle cx="692.3" cy="590.0" r="8.4"/><circle cx="709.1" cy="569.3" r="8.4"/><circle cx="738.0" cy="604.7" r="8.4"/><circle cx="665.3" cy="631.6" r="8.4"/><circle cx="662.7" cy="492.7" r="8.4"/><circle cx="702.7" cy="474.7" r="8.4"/><circle cx="710.0" cy="452.0" r="8.4"/><circle cx="670.4" cy="518.7" r="8.4"/><circle cx="739.3" cy="548.0" r="8.4"/><circle cx="727.3" cy="560.7" r="8.4"/><circle cx="725.3" cy="567.3" r="8.4"/><circle cx="620.7" cy="655.3" r="8.4"/><circle cx="854.7" cy="291.6" r="8.4"/><circle cx="874.0" cy="288.7" r="8.4"/><circle cx="830.9" cy="328.7" r="8.4"/><circle cx="863.3" cy="350.9" r="8.4"/><circle cx="786.9" cy="381.6" r="8.4"/><circle cx="801.3" cy="390.0" r="8.4"/><circle cx="802.4" cy="396.7" r="8.4"/><circle cx="717.3" cy="433.3" r="8.4"/><circle cx="771.6" cy="440.9" r="8.4"/><circle cx="604.0" cy="894.7" r="8.4"/><circle cx="744.9" cy="965.6" r="8.4"/><circle cx="734.9" cy="981.3" r="8.4"/><circle cx="676.4" cy="999.7" r="8.4"/><circle cx="827.3" cy="851.3" r="8.4"/><circle cx="789.6" cy="939.1" r="8.4"/><circle cx="854.7" cy="941.6" r="8.4"/><circle cx="842.9" cy="1089.7" r="8.4"/><circle cx="792.7" cy="468.7" r="8.4"/><circle cx="781.3" cy="475.1" r="8.4"/><circle cx="858.7" cy="480.7" r="8.4"/><circle cx="847.3" cy="490.7" r="8.4"/><circle cx="874.7" cy="490.9" r="8.4"/><circle cx="893.3" cy="469.3" r="8.4"/><circle cx="890.7" cy="477.7" r="8.4"/><circle cx="953.3" cy="462.7" r="8.4"/><circle cx="944.0" cy="486.0" r="8.4"/><circle cx="919.6" cy="500.7" r="8.4"/><circle cx="955.3" cy="520.7" r="8.4"/><circle cx="964.7" cy="531.3" r="8.4"/><circle cx="1015.3" cy="502.7" r="8.4"/><circle cx="1008.7" cy="543.3" r="8.4"/><circle cx="929.3" cy="550.9" r="8.4"/><circle cx="937.1" cy="579.1" r="8.4"/><circle cx="936.0" cy="588.7" r="8.4"/><circle cx="941.3" cy="598.0" r="8.4"/><circle cx="962.3" cy="588.7" r="8.4"/><circle cx="1007.7" cy="591.3" r="8.4"/><circle cx="1003.3" cy="614.7" r="8.4"/><circle cx="1017.3" cy="610.0" r="8.4"/><circle cx="1014.0" cy="637.3" r="8.4"/><circle cx="846.0" cy="604.9" r="8.4"/><circle cx="840.7" cy="609.3" r="8.4"/><circle cx="849.6" cy="553.3" r="8.4"/><circle cx="784.0" cy="590.0" r="8.4"/><circle cx="805.6" cy="640.7" r="8.4"/><circle cx="830.7" cy="646.0" r="8.4"/><circle cx="770.7" cy="518.7" r="8.4"/><circle cx="791.7" cy="505.3" r="8.4"/><circle cx="815.6" cy="496.7" r="8.4"/><circle cx="827.3" cy="534.4" r="8.4"/><circle cx="800.7" cy="539.3" r="8.4"/><circle cx="793.3" cy="546.0" r="8.4"/><circle cx="823.3" cy="552.4" r="8.4"/><circle cx="804.9" cy="669.3" r="8.4"/><circle cx="799.7" cy="687.3" r="8.4"/><circle cx="766.7" cy="736.0" r="8.4"/><circle cx="816.0" cy="766.0" r="8.4"/><circle cx="823.3" cy="774.0" r="8.4"/><circle cx="839.3" cy="776.9" r="8.4"/><circle cx="813.1" cy="810.7" r="8.4"/><circle cx="861.3" cy="767.7" r="8.4"/><circle cx="878.7" cy="797.3" r="8.4"/><circle cx="898.0" cy="707.6" r="8.4"/><circle cx="886.9" cy="719.7" r="8.4"/><circle cx="1001.3" cy="716.7" r="8.4"/><circle cx="898.4" cy="746.9" r="8.4"/><circle cx="954.7" cy="749.3" r="8.4"/><circle cx="916.7" cy="758.0" r="8.4"/><circle cx="917.3" cy="763.3" r="8.4"/><circle cx="924.0" cy="774.7" r="8.4"/><circle cx="944.7" cy="776.9" r="8.4"/><circle cx="934.7" cy="804.0" r="8.4"/><circle cx="944.0" cy="813.3" r="8.4"/><circle cx="901.3" cy="279.3" r="8.4"/><circle cx="910.7" cy="274.0" r="8.4"/><circle cx="922.0" cy="268.0" r="8.4"/><circle cx="916.0" cy="271.3" r="8.4"/><circle cx="937.3" cy="275.7" r="8.4"/><circle cx="1011.3" cy="330.7" r="8.4"/><circle cx="909.1" cy="350.3" r="8.4"/><circle cx="959.3" cy="392.7" r="8.4"/><circle cx="974.7" cy="392.0" r="8.4"/><circle cx="968.0" cy="400.7" r="8.4"/><circle cx="954.7" cy="408.7" r="8.4"/><circle cx="944.0" cy="411.3" r="8.4"/><circle cx="970.7" cy="407.3" r="8.4"/><circle cx="977.3" cy="415.3" r="8.4"/><circle cx="889.3" cy="399.3" r="8.4"/><circle cx="890.7" cy="406.0" r="8.4"/><circle cx="949.7" cy="426.0" r="8.4"/><circle cx="905.1" cy="438.7" r="8.4"/><circle cx="985.3" cy="436.9" r="8.4"/><circle cx="1000.7" cy="376.0" r="8.4"/><circle cx="1012.0" cy="382.0" r="8.4"/><circle cx="1013.7" cy="418.7" r="8.4"/><circle cx="1044.7" cy="382.7" r="8.4"/><circle cx="1070.7" cy="380.0" r="8.4"/><circle cx="1038.4" cy="335.3" r="8.4"/><circle cx="1050.7" cy="336.0" r="8.4"/><circle cx="1033.3" cy="345.3" r="8.4"/><circle cx="1048.7" cy="363.3" r="8.4"/><circle cx="1064.7" cy="352.0" r="8.4"/><circle cx="1075.7" cy="363.3" r="8.4"/><circle cx="1084.0" cy="352.7" r="8.4"/><circle cx="1090.7" cy="340.7" r="8.4"/><circle cx="1096.7" cy="328.7" r="8.4"/><circle cx="1098.7" cy="335.3" r="8.4"/><circle cx="1059.3" cy="321.3" r="8.4"/><circle cx="1102.7" cy="348.7" r="8.4"/><circle cx="1124.0" cy="360.7" r="8.4"/><circle cx="1139.3" cy="358.0" r="8.4"/><circle cx="1141.3" cy="364.7" r="8.4"/><circle cx="1141.3" cy="391.3" r="8.4"/><circle cx="1064.7" cy="414.0" r="8.4"/><circle cx="1040.0" cy="421.3" r="8.4"/><circle cx="1084.0" cy="426.0" r="8.4"/><circle cx="1098.7" cy="436.7" r="8.4"/><circle cx="910.4" cy="864.7" r="8.4"/><circle cx="892.9" cy="885.1" r="8.4"/><circle cx="990.4" cy="880.7" r="8.4"/><circle cx="1019.3" cy="900.4" r="8.4"/><circle cx="1085.6" cy="920.3" r="8.4"/><circle cx="1097.3" cy="935.7" r="8.4"/><circle cx="1022.0" cy="946.4" r="8.4"/><circle cx="1081.3" cy="984.9" r="8.4"/><circle cx="1008.9" cy="1017.3" r="8.4"/><circle cx="1058.7" cy="1031.3" r="8.4"/><circle cx="1057.3" cy="1042.0" r="8.4"/><circle cx="1074.7" cy="1041.3" r="8.4"/><circle cx="1042.7" cy="1048.7" r="8.4"/><circle cx="974.4" cy="1070.4" r="8.4"/><circle cx="1003.7" cy="1136.7" r="8.4"/><circle cx="1002.0" cy="1145.7" r="8.4"/><circle cx="1060.0" cy="1134.0" r="8.4"/><circle cx="1024.0" cy="1158.7" r="8.4"/><circle cx="1035.3" cy="1158.3" r="8.4"/><circle cx="1019.7" cy="1056.4" r="8.4"/><circle cx="1040.0" cy="473.3" r="8.4"/><circle cx="1028.7" cy="484.0" r="8.4"/><circle cx="1069.3" cy="460.7" r="8.4"/><circle cx="1058.7" cy="467.3" r="8.4"/><circle cx="1092.0" cy="458.0" r="8.4"/><circle cx="1044.4" cy="516.3" r="8.4"/><circle cx="1159.6" cy="490.7" r="8.4"/><circle cx="1139.6" cy="504.7" r="8.4"/><circle cx="1101.7" cy="532.9" r="8.4"/><circle cx="1051.3" cy="557.3" r="8.4"/><circle cx="1034.7" cy="562.4" r="8.4"/><circle cx="1082.7" cy="559.6" r="8.4"/><circle cx="1104.0" cy="566.7" r="8.4"/><circle cx="1125.7" cy="588.7" r="8.4"/><circle cx="1088.0" cy="596.7" r="8.4"/><circle cx="1096.0" cy="602.0" r="8.4"/><circle cx="1104.0" cy="606.0" r="8.4"/><circle cx="1080.7" cy="614.0" r="8.4"/><circle cx="1096.0" cy="622.0" r="8.4"/><circle cx="1148.7" cy="628.3" r="8.4"/><circle cx="1030.0" cy="631.3" r="8.4"/><circle cx="1060.7" cy="644.7" r="8.4"/><circle cx="1204.3" cy="514.7" r="8.4"/><circle cx="1203.6" cy="548.7" r="8.4"/><circle cx="1231.7" cy="576.0" r="8.4"/><circle cx="1275.3" cy="470.4" r="8.4"/><circle cx="1030.0" cy="662.7" r="8.4"/><circle cx="1062.0" cy="667.3" r="8.4"/><circle cx="1154.7" cy="722.9" r="8.4"/><circle cx="1239.6" cy="696.4" r="8.4"/><circle cx="1270.7" cy="674.4" r="8.4"/><circle cx="1240.0" cy="717.3" r="8.4"/><circle cx="1252.0" cy="720.0" r="8.4"/><circle cx="1254.4" cy="732.0" r="8.4"/><circle cx="1294.7" cy="730.0" r="8.4"/><circle cx="1288.0" cy="742.0" r="8.4"/><circle cx="1274.0" cy="765.3" r="8.4"/><circle cx="1280.7" cy="801.3" r="8.4"/><circle cx="1299.7" cy="784.7" r="8.4"/><circle cx="1165.1" cy="774.0" r="8.4"/><circle cx="1146.0" cy="788.0" r="8.4"/><circle cx="1112.7" cy="808.9" r="8.4"/><circle cx="1176.3" cy="829.6" r="8.4"/><circle cx="1197.1" cy="822.4" r="8.4"/><circle cx="1205.3" cy="806.7" r="8.4"/><circle cx="1195.7" cy="377.7" r="8.4"/><circle cx="1206.0" cy="405.3" r="8.4"/><circle cx="1170.7" cy="413.3" r="8.4"/><circle cx="1191.3" cy="423.3" r="8.4"/><circle cx="1224.9" cy="418.3" r="8.4"/><circle cx="1162.7" cy="447.3" r="8.4"/><circle cx="1280.0" cy="408.0" r="8.4"/><circle cx="1291.3" cy="418.7" r="8.4"/><circle cx="1290.4" cy="428.7" r="8.4"/><circle cx="1242.0" cy="932.7" r="8.4"/><circle cx="1334.0" cy="905.7" r="8.4"/><circle cx="1353.1" cy="900.9" r="8.4"/><circle cx="1282.7" cy="858.0" r="8.4"/><circle cx="1324.7" cy="874.0" r="8.4"/><circle cx="1370.7" cy="878.0" r="8.4"/><circle cx="1378.7" cy="886.0" r="8.4"/><circle cx="1384.0" cy="890.7" r="8.4"/><circle cx="1408.7" cy="851.3" r="8.4"/><circle cx="1425.3" cy="872.7" r="8.4"/><circle cx="1294.0" cy="1033.3" r="8.4"/><circle cx="1286.0" cy="1040.7" r="8.4"/><circle cx="1304.7" cy="1040.0" r="8.4"/><circle cx="1318.7" cy="1048.7" r="8.4"/><circle cx="1340.9" cy="1041.6" r="8.4"/><circle cx="1268.3" cy="1133.3" r="8.4"/><circle cx="1332.0" cy="1055.3" r="8.4"/><circle cx="1319.3" cy="464.7" r="8.4"/><circle cx="1336.0" cy="512.0" r="8.4"/><circle cx="1324.7" cy="521.3" r="8.4"/><circle cx="1317.3" cy="524.7" r="8.4"/><circle cx="1437.3" cy="612.7" r="8.4"/><circle cx="1436.9" cy="632.9" r="8.4"/><circle cx="1376.0" cy="633.3" r="8.4"/><circle cx="1336.0" cy="584.0" r="8.4"/><circle cx="1310.0" cy="610.9" r="8.4"/><circle cx="1305.3" cy="640.0" r="8.4"/><circle cx="1484.7" cy="536.7" r="8.4"/><circle cx="1459.7" cy="548.3" r="8.4"/><circle cx="1468.3" cy="585.3" r="8.4"/><circle cx="1506.0" cy="595.3" r="8.4"/><circle cx="1475.1" cy="604.7" r="8.4"/><circle cx="1527.3" cy="612.0" r="8.4"/><circle cx="1529.6" cy="629.3" r="8.4"/><circle cx="1320.0" cy="654.0" r="8.4"/><circle cx="1389.3" cy="666.0" r="8.4"/><circle cx="1394.7" cy="672.0" r="8.4"/><circle cx="1547.3" cy="655.3" r="8.4"/><circle cx="1553.3" cy="666.0" r="8.4"/><circle cx="1458.7" cy="671.3" r="8.4"/><circle cx="1302.7" cy="687.3" r="8.4"/><circle cx="1438.7" cy="683.3" r="8.4"/><circle cx="1454.7" cy="680.7" r="8.4"/><circle cx="1472.7" cy="688.7" r="8.4"/><circle cx="1482.7" cy="696.7" r="8.4"/><circle cx="1388.0" cy="703.3" r="8.4"/><circle cx="1431.3" cy="712.0" r="8.4"/><circle cx="1454.0" cy="710.7" r="8.4"/><circle cx="1330.0" cy="714.7" r="8.4"/><circle cx="1362.0" cy="720.0" r="8.4"/><circle cx="1380.7" cy="715.3" r="8.4"/><circle cx="1397.3" cy="716.7" r="8.4"/><circle cx="1445.3" cy="719.3" r="8.4"/><circle cx="1450.7" cy="723.3" r="8.4"/><circle cx="1505.3" cy="710.7" r="8.4"/><circle cx="1528.3" cy="710.3" r="8.4"/><circle cx="1578.0" cy="704.7" r="8.4"/><circle cx="1344.7" cy="740.0" r="8.4"/><circle cx="1333.3" cy="748.7" r="8.4"/><circle cx="1425.3" cy="731.3" r="8.4"/><circle cx="1367.3" cy="752.0" r="8.4"/><circle cx="1450.0" cy="746.0" r="8.4"/><circle cx="1491.3" cy="738.7" r="8.4"/><circle cx="1535.3" cy="742.0" r="8.4"/><circle cx="1560.0" cy="738.7" r="8.4"/><circle cx="1424.0" cy="768.7" r="8.4"/><circle cx="1433.3" cy="768.7" r="8.4"/><circle cx="1469.3" cy="764.0" r="8.4"/><circle cx="1326.7" cy="781.3" r="8.4"/><circle cx="1307.3" cy="791.3" r="8.4"/><circle cx="1373.3" cy="784.0" r="8.4"/><circle cx="1381.3" cy="782.0" r="8.4"/><circle cx="1468.0" cy="788.7" r="8.4"/><circle cx="1492.0" cy="803.3" r="8.4"/><circle cx="1521.3" cy="793.3" r="8.4"/><circle cx="1327.3" cy="800.7" r="8.4"/><circle cx="1358.7" cy="816.0" r="8.4"/><circle cx="1340.0" cy="820.7" r="8.4"/><circle cx="1399.3" cy="805.3" r="8.4"/><circle cx="1435.3" cy="821.3" r="8.4"/><circle cx="1454.7" cy="812.0" r="8.4"/><circle cx="1465.3" cy="812.7" r="8.4"/><circle cx="1470.0" cy="822.0" r="8.4"/><circle cx="1485.3" cy="818.0" r="8.4"/><circle cx="1516.0" cy="814.0" r="8.4"/><circle cx="1536.0" cy="820.7" r="8.4"/><circle cx="1553.3" cy="836.7" r="8.4"/><circle cx="1341.3" cy="833.7" r="8.4"/><circle cx="1375.3" cy="834.7" r="8.4"/><circle cx="1466.7" cy="834.7" r="8.4"/><circle cx="1498.7" cy="838.0" r="8.4"/><circle cx="1542.7" cy="842.0" r="8.4"/><circle cx="1485.3" cy="844.0" r="8.4"/><circle cx="1586.7" cy="564.3" r="8.4"/><circle cx="1655.3" cy="565.7" r="8.4"/><circle cx="1676.0" cy="574.7" r="8.4"/><circle cx="1648.7" cy="584.0" r="8.4"/><circle cx="1698.4" cy="586.4" r="8.4"/><circle cx="1711.1" cy="595.7" r="8.4"/><circle cx="1660.0" cy="592.0" r="8.4"/><circle cx="1645.3" cy="599.6" r="8.4"/><circle cx="1677.3" cy="607.3" r="8.4"/><circle cx="1689.3" cy="604.7" r="8.4"/><circle cx="1688.7" cy="612.0" r="8.4"/><circle cx="1619.3" cy="626.4" r="8.4"/><circle cx="1589.1" cy="737.3" r="8.4"/><circle cx="1586.7" cy="768.7" r="8.4"/><circle cx="1622.4" cy="769.3" r="8.4"/><circle cx="1642.4" cy="771.1" r="8.4"/><circle cx="1635.3" cy="778.7" r="8.4"/><circle cx="1686.7" cy="791.6" r="8.4"/><circle cx="1582.7" cy="814.0" r="8.4"/><circle cx="1589.1" cy="820.0" r="8.4"/><circle cx="1576.0" cy="775.0" r="8.4"/></g>
<g fill="#D8456C"><circle cx="544.4" cy="991.6" r="8.4"/><circle cx="588.0" cy="1010.7" r="8.4"/><circle cx="575.3" cy="1041.3" r="8.4"/><circle cx="515.3" cy="943.3" r="8.4"/><circle cx="452.4" cy="941.6" r="8.4"/><circle cx="466.3" cy="979.1" r="8.4"/><circle cx="392.4" cy="1041.3" r="8.4"/><circle cx="383.3" cy="1066.7" r="8.4"/><circle cx="448.9" cy="1064.4" r="8.4"/><circle cx="543.3" cy="1070.0" r="8.4"/><circle cx="609.3" cy="504.7" r="8.4"/><circle cx="606.7" cy="540.0" r="8.4"/><circle cx="613.3" cy="548.0" r="8.4"/><circle cx="577.1" cy="597.7" r="8.4"/><circle cx="566.9" cy="603.6" r="8.4"/><circle cx="664.3" cy="598.3" r="8.4"/><circle cx="648.4" cy="504.7" r="8.4"/><circle cx="701.6" cy="508.0" r="8.4"/><circle cx="631.6" cy="667.3" r="8.4"/><circle cx="650.7" cy="672.4" r="8.4"/><circle cx="839.3" cy="316.0" r="8.4"/><circle cx="740.9" cy="439.6" r="8.4"/><circle cx="833.3" cy="886.9" r="8.4"/><circle cx="924.4" cy="460.0" r="8.4"/><circle cx="937.3" cy="454.0" r="8.4"/><circle cx="980.0" cy="452.7" r="8.4"/><circle cx="974.9" cy="582.0" r="8.4"/><circle cx="772.9" cy="609.3" r="8.4"/><circle cx="793.6" cy="626.0" r="8.4"/><circle cx="824.0" cy="648.7" r="8.4"/><circle cx="789.7" cy="522.0" r="8.4"/><circle cx="810.0" cy="514.0" r="8.4"/><circle cx="863.3" cy="704.7" r="8.4"/><circle cx="771.1" cy="726.0" r="8.4"/><circle cx="772.4" cy="762.7" r="8.4"/><circle cx="802.7" cy="846.0" r="8.4"/><circle cx="871.3" cy="766.0" r="8.4"/><circle cx="867.6" cy="798.0" r="8.4"/><circle cx="922.0" cy="277.7" r="8.4"/><circle cx="898.0" cy="294.7" r="8.4"/><circle cx="934.9" cy="335.3" r="8.4"/><circle cx="971.3" cy="297.7" r="8.4"/><circle cx="906.7" cy="384.7" r="8.4"/><circle cx="983.3" cy="418.3" r="8.4"/><circle cx="917.1" cy="426.3" r="8.4"/><circle cx="1024.4" cy="407.1" r="8.4"/><circle cx="1110.0" cy="378.7" r="8.4"/><circle cx="1112.7" cy="386.7" r="8.4"/><circle cx="1153.3" cy="402.0" r="8.4"/><circle cx="1072.7" cy="426.0" r="8.4"/><circle cx="1080.0" cy="435.3" r="8.4"/><circle cx="1105.3" cy="442.0" r="8.4"/><circle cx="1118.0" cy="942.3" r="8.4"/><circle cx="1091.3" cy="968.7" r="8.4"/><circle cx="1028.3" cy="995.6" r="8.4"/><circle cx="887.7" cy="1094.3" r="8.4"/><circle cx="1022.7" cy="470.0" r="8.4"/><circle cx="1098.7" cy="452.7" r="8.4"/><circle cx="1123.7" cy="468.0" r="8.4"/><circle cx="1112.3" cy="569.3" r="8.4"/><circle cx="1036.7" cy="590.0" r="8.4"/><circle cx="1088.4" cy="580.3" r="8.4"/><circle cx="1109.1" cy="592.0" r="8.4"/><circle cx="1210.9" cy="488.9" r="8.4"/><circle cx="1232.3" cy="552.7" r="8.4"/><circle cx="1236.3" cy="596.7" r="8.4"/><circle cx="1243.3" cy="633.1" r="8.4"/><circle cx="1270.7" cy="590.7" r="8.4"/><circle cx="1252.0" cy="456.0" r="8.4"/><circle cx="1284.0" cy="674.7" r="8.4"/><circle cx="1278.0" cy="682.0" r="8.4"/><circle cx="1230.0" cy="720.7" r="8.4"/><circle cx="1281.3" cy="754.7" r="8.4"/><circle cx="1186.0" cy="384.7" r="8.4"/><circle cx="1178.0" cy="409.3" r="8.4"/><circle cx="1194.9" cy="406.0" r="8.4"/><circle cx="1191.3" cy="413.3" r="8.4"/><circle cx="1272.7" cy="407.3" r="8.4"/><circle cx="1287.6" cy="416.3" r="8.4"/><circle cx="1293.3" cy="438.0" r="8.4"/><circle cx="1307.3" cy="444.0" r="8.4"/><circle cx="1198.9" cy="937.6" r="8.4"/><circle cx="1227.1" cy="932.4" r="8.4"/><circle cx="1264.0" cy="924.7" r="8.4"/><circle cx="1273.3" cy="868.7" r="8.4"/><circle cx="1289.3" cy="868.7" r="8.4"/><circle cx="1297.3" cy="860.7" r="8.4"/><circle cx="1306.7" cy="862.0" r="8.4"/><circle cx="1300.0" cy="875.3" r="8.4"/><circle cx="1364.7" cy="881.3" r="8.4"/><circle cx="1422.7" cy="866.0" r="8.4"/><circle cx="1418.7" cy="878.0" r="8.4"/><circle cx="1411.3" cy="882.0" r="8.4"/><circle cx="1284.7" cy="1136.7" r="8.4"/><circle cx="1288.3" cy="1166.3" r="8.4"/><circle cx="1263.1" cy="1177.3" r="8.4"/><circle cx="1354.9" cy="533.3" r="8.4"/><circle cx="1331.1" cy="545.3" r="8.4"/><circle cx="1398.4" cy="596.9" r="8.4"/><circle cx="1413.3" cy="610.0" r="8.4"/><circle cx="1418.7" cy="612.0" r="8.4"/><circle cx="1424.7" cy="619.3" r="8.4"/><circle cx="1470.7" cy="535.3" r="8.4"/><circle cx="1478.7" cy="542.0" r="8.4"/><circle cx="1490.0" cy="539.3" r="8.4"/><circle cx="1448.3" cy="550.9" r="8.4"/><circle cx="1510.7" cy="624.0" r="8.4"/><circle cx="1503.3" cy="640.3" r="8.4"/><circle cx="1321.6" cy="666.0" r="8.4"/><circle cx="1498.4" cy="659.6" r="8.4"/><circle cx="1340.7" cy="689.3" r="8.4"/><circle cx="1462.0" cy="690.7" r="8.4"/><circle cx="1420.7" cy="708.7" r="8.4"/><circle cx="1414.7" cy="712.7" r="8.4"/><circle cx="1355.3" cy="716.7" r="8.4"/><circle cx="1432.7" cy="720.7" r="8.4"/><circle cx="1494.0" cy="714.0" r="8.4"/><circle cx="1545.3" cy="727.3" r="8.4"/><circle cx="1308.0" cy="728.7" r="8.4"/><circle cx="1387.3" cy="736.4" r="8.4"/><circle cx="1406.7" cy="728.7" r="8.4"/><circle cx="1362.4" cy="749.3" r="8.4"/><circle cx="1430.7" cy="751.3" r="8.4"/><circle cx="1478.0" cy="748.0" r="8.4"/><circle cx="1524.7" cy="736.7" r="8.4"/><circle cx="1309.3" cy="760.0" r="8.4"/><circle cx="1320.0" cy="759.3" r="8.4"/><circle cx="1349.3" cy="770.0" r="8.4"/><circle cx="1479.3" cy="764.7" r="8.4"/><circle cx="1472.0" cy="775.3" r="8.4"/><circle cx="1354.0" cy="782.0" r="8.4"/><circle cx="1313.3" cy="786.7" r="8.4"/><circle cx="1415.3" cy="784.0" r="8.4"/><circle cx="1433.3" cy="791.3" r="8.4"/><circle cx="1422.7" cy="799.3" r="8.4"/><circle cx="1558.4" cy="791.1" r="8.4"/><circle cx="1335.3" cy="813.3" r="8.4"/><circle cx="1568.0" cy="830.7" r="8.4"/><circle cx="1324.7" cy="826.0" r="8.4"/><circle cx="1316.0" cy="843.3" r="8.4"/><circle cx="1384.0" cy="832.0" r="8.4"/><circle cx="1492.0" cy="830.0" r="8.4"/><circle cx="1478.7" cy="842.0" r="8.4"/><circle cx="1634.9" cy="568.3" r="8.4"/><circle cx="1670.0" cy="572.7" r="8.4"/><circle cx="1682.7" cy="585.3" r="8.4"/><circle cx="1684.0" cy="598.0" r="8.4"/><circle cx="1645.1" cy="618.3" r="8.4"/></g>
<g fill="#F1605D"><circle cx="580.0" cy="1040.0" r="8.4"/><circle cx="418.9" cy="988.7" r="8.4"/><circle cx="416.3" cy="1014.3" r="8.4"/><circle cx="356.3" cy="1054.7" r="8.4"/><circle cx="436.7" cy="1054.0" r="8.4"/><circle cx="428.0" cy="1064.7" r="8.4"/><circle cx="406.7" cy="1081.1" r="8.4"/><circle cx="588.8" cy="1046.7" r="8.4"/><circle cx="537.7" cy="1104.3" r="8.4"/><circle cx="594.0" cy="632.0" r="8.4"/><circle cx="594.7" cy="640.0" r="8.4"/><circle cx="705.3" cy="483.6" r="8.4"/><circle cx="669.7" cy="685.3" r="8.4"/><circle cx="879.3" cy="1084.9" r="8.4"/><circle cx="790.0" cy="467.3" r="8.4"/><circle cx="780.0" cy="597.7" r="8.4"/><circle cx="854.0" cy="708.7" r="8.4"/><circle cx="841.6" cy="795.1" r="8.4"/><circle cx="860.3" cy="808.3" r="8.4"/><circle cx="947.7" cy="292.0" r="8.4"/><circle cx="1074.7" cy="319.6" r="8.4"/><circle cx="1089.6" cy="316.7" r="8.4"/><circle cx="1073.6" cy="412.3" r="8.4"/><circle cx="1092.0" cy="429.3" r="8.4"/><circle cx="1036.7" cy="1049.3" r="8.4"/><circle cx="1049.6" cy="1147.6" r="8.4"/><circle cx="1067.3" cy="452.7" r="8.4"/><circle cx="1107.3" cy="468.7" r="8.4"/><circle cx="1038.7" cy="582.4" r="8.4"/><circle cx="1024.7" cy="624.7" r="8.4"/><circle cx="1258.4" cy="460.0" r="8.4"/><circle cx="1164.0" cy="661.7" r="8.4"/><circle cx="1286.7" cy="762.7" r="8.4"/><circle cx="1344.4" cy="1002.4" r="8.4"/><circle cx="1270.7" cy="861.3" r="8.4"/><circle cx="1308.0" cy="874.4" r="8.4"/><circle cx="1334.3" cy="864.3" r="8.4"/><circle cx="1327.3" cy="503.1" r="8.4"/><circle cx="1427.6" cy="574.0" r="8.4"/><circle cx="1392.0" cy="648.7" r="8.4"/><circle cx="1518.3" cy="614.9" r="8.4"/><circle cx="1314.0" cy="655.3" r="8.4"/><circle cx="1579.3" cy="666.0" r="8.4"/><circle cx="1504.7" cy="686.0" r="8.4"/><circle cx="1574.7" cy="683.3" r="8.4"/><circle cx="1365.6" cy="704.7" r="8.4"/><circle cx="1406.7" cy="703.3" r="8.4"/><circle cx="1330.0" cy="724.7" r="8.4"/><circle cx="1424.9" cy="754.7" r="8.4"/><circle cx="1452.0" cy="758.7" r="8.4"/><circle cx="1343.3" cy="808.7" r="8.4"/><circle cx="1380.7" cy="822.0" r="8.4"/><circle cx="1510.0" cy="827.3" r="8.4"/><circle cx="1323.3" cy="833.3" r="8.4"/><circle cx="1442.7" cy="846.0" r="8.4"/><circle cx="1656.0" cy="578.7" r="8.4"/><circle cx="1654.7" cy="584.7" r="8.4"/><circle cx="1667.3" cy="625.3" r="8.4"/><circle cx="1595.1" cy="808.0" r="8.4"/></g>
<g fill="#FB8761"><circle cx="585.3" cy="993.3" r="8.4"/><circle cx="438.0" cy="1074.0" r="8.4"/><circle cx="600.3" cy="614.7" r="8.4"/><circle cx="589.1" cy="628.0" r="8.4"/><circle cx="864.0" cy="290.0" r="8.4"/><circle cx="800.0" cy="448.7" r="8.4"/><circle cx="916.3" cy="378.9" r="8.4"/><circle cx="978.7" cy="375.3" r="8.4"/><circle cx="912.0" cy="411.6" r="8.4"/><circle cx="1017.6" cy="1104.7" r="8.4"/><circle cx="1030.0" cy="466.0" r="8.4"/><circle cx="1231.6" cy="713.3" r="8.4"/><circle cx="1282.7" cy="785.3" r="8.4"/><circle cx="1267.3" cy="795.3" r="8.4"/><circle cx="1284.0" cy="848.7" r="8.4"/><circle cx="1178.0" cy="778.0" r="8.4"/><circle cx="1229.1" cy="394.9" r="8.4"/><circle cx="1209.6" cy="423.3" r="8.4"/><circle cx="1241.3" cy="926.7" r="8.4"/><circle cx="1499.3" cy="566.7" r="8.4"/><circle cx="1413.6" cy="674.7" r="8.4"/><circle cx="1422.0" cy="694.7" r="8.4"/><circle cx="1541.7" cy="684.0" r="8.4"/><circle cx="1310.7" cy="717.3" r="8.4"/><circle cx="1345.1" cy="714.3" r="8.4"/><circle cx="1477.6" cy="722.0" r="8.4"/><circle cx="1502.4" cy="717.3" r="8.4"/><circle cx="1336.7" cy="728.7" r="8.4"/><circle cx="1329.3" cy="737.3" r="8.4"/><circle cx="1460.7" cy="776.0" r="8.4"/><circle cx="1336.3" cy="780.7" r="8.4"/><circle cx="1388.0" cy="776.4" r="8.4"/><circle cx="1487.3" cy="822.7" r="8.4"/><circle cx="1308.0" cy="831.3" r="8.4"/><circle cx="1582.7" cy="721.3" r="8.4"/></g>
<g fill="#FEA671"><circle cx="758.3" cy="414.3" r="8.4"/><circle cx="1047.1" cy="355.3" r="8.4"/><circle cx="1231.7" cy="619.3" r="8.4"/><circle cx="1188.0" cy="391.3" r="8.4"/><circle cx="1279.3" cy="913.7" r="8.4"/><circle cx="1347.3" cy="519.7" r="8.4"/><circle cx="1498.4" cy="677.3" r="8.4"/><circle cx="1667.6" cy="582.0" r="8.4"/></g>
<g fill="#FDC58B"><circle cx="1088.7" cy="444.0" r="8.4"/><circle cx="1124.4" cy="616.4" r="8.4"/><circle cx="1276.9" cy="736.7" r="8.4"/><circle cx="1298.0" cy="819.3" r="8.4"/><circle cx="1479.6" cy="621.3" r="8.4"/></g>
<g fill="#FDD49A"><circle cx="391.3" cy="1062.7" r="8.4"/><circle cx="1254.0" cy="926.0" r="8.4"/><circle cx="1258.7" cy="922.7" r="8.4"/></g>
<g fill="#FCFBBC"><circle cx="1277.7" cy="792.7" r="8.4"/><circle cx="1304.7" cy="456.0" r="8.4"/></g>
</g>
<g stroke="#000" stroke-width="4.4" fill="none">
<path d="M211.1 140.5V1308.7"/>
<path d="M208.8 1306.5H1819"/>
<path d="M196.5 439.5H209"/><path d="M196.5 765.4H209"/><path d="M196.5 1090.6H209"/><path d="M597.0 1308V1321"/><path d="M1014.3 1308V1321"/><path d="M1431.6 1308V1321"/>
</g>
<g id="txt">
<text transform="translate(892.45 100.20) scale(1.0791 1)" font-size="68.4" font-weight="bold" stroke="#000" stroke-width="0.80" stroke-linejoin="round">N</text>
<text transform="translate(948.08 100.20) scale(1.0732 1)" font-size="68.4" font-weight="bold" stroke="#000" stroke-width="0.80" stroke-linejoin="round">D</text>
<text transform="translate(1005.05 100.20) scale(0.8834 1)" font-size="68.4" font-weight="bold" stroke="#000" stroke-width="0.80" stroke-linejoin="round">E</text>
<text transform="translate(1049.43 100.20) scale(0.9747 1)" font-size="68.4" font-weight="bold" stroke="#000" stroke-width="0.80" stroke-linejoin="round">L</text>
<text transform="translate(1094.01 100.20) scale(1.0658 1)" font-size="68.4" font-weight="bold" stroke="#000" stroke-width="0.80" stroke-linejoin="round">1</text>
<text transform="translate(124.15 458.40) scale(0.8817 1)" font-size="50" stroke="#000" stroke-width="0.45" stroke-linejoin="round">1</text>
<text transform="translate(152.01 458.40) scale(1.0746 1)" font-size="50" stroke="#000" stroke-width="0.45" stroke-linejoin="round">2</text>
<text transform="translate(153.01 783.90) scale(1.0638 1)" font-size="50" stroke="#000" stroke-width="0.45" stroke-linejoin="round">8</text>
<text transform="translate(153.09 1108.60) scale(1.0556 1)" font-size="50" stroke="#000" stroke-width="0.45" stroke-linejoin="round">4</text>
<text transform="translate(581.60 1369.90) scale(1.0753 1)" font-size="50" stroke="#000" stroke-width="0.45" stroke-linejoin="round">0</text>
<text transform="translate(998.87 1369.90) scale(1.0714 1)" font-size="50" stroke="#000" stroke-width="0.45" stroke-linejoin="round">4</text>
<text transform="translate(1416.31 1369.90) scale(1.0638 1)" font-size="50" stroke="#000" stroke-width="0.45" stroke-linejoin="round">8</text>
<text transform="translate(898.63 1436.00) scale(1.0736 1)" font-size="58.3" stroke="#000" stroke-width="0.45" stroke-linejoin="round">u</text>
<text transform="translate(935.60 1436.00) scale(1.1427 1)" font-size="58.3" stroke="#000" stroke-width="0.45" stroke-linejoin="round">m</text>
<text transform="translate(993.55 1436.00) scale(0.8777 1)" font-size="58.3" stroke="#000" stroke-width="0.45" stroke-linejoin="round">a</text>
<text transform="translate(1028.72 1436.00) scale(1.0673 1)" font-size="58.3" stroke="#000" stroke-width="0.45" stroke-linejoin="round">p</text>
<text transform="translate(1064.07 1436.00) scale(0.8842 1)" font-size="58.3" stroke="#000" stroke-width="0.45" stroke-linejoin="round">_</text>
<text transform="translate(1099.66 1436.00) scale(0.8676 1)" font-size="58.3" stroke="#000" stroke-width="0.45" stroke-linejoin="round">1</text>
<text transform="translate(94.40 840.07) rotate(-90) scale(1.0736 1)" font-size="58.3" stroke="#000" stroke-width="0.45" stroke-linejoin="round">u</text>
<text transform="translate(94.40 803.10) rotate(-90) scale(1.1427 1)" font-size="58.3" stroke="#000" stroke-width="0.45" stroke-linejoin="round">m</text>
<text transform="translate(94.40 745.15) rotate(-90) scale(0.8777 1)" font-size="58.3" stroke="#000" stroke-width="0.45" stroke-linejoin="round">a</text>
<text transform="translate(94.40 709.98) rotate(-90) scale(1.0673 1)" font-size="58.3" stroke="#000" stroke-width="0.45" stroke-linejoin="round">p</text>
<text transform="translate(94.40 674.63) rotate(-90) scale(0.8842 1)" font-size="58.3" stroke="#000" stroke-width="0.45" stroke-linejoin="round">_</text>
<text transform="translate(94.40 642.34) rotate(-90) scale(0.9742 1)" font-size="58.3" stroke="#000" stroke-width="0.45" stroke-linejoin="round">2</text>
<text transform="translate(1970.03 636.30) scale(1.0263 1)" font-size="50" stroke="#000" stroke-width="0.45" stroke-linejoin="round">2</text>
<text transform="translate(2001.46 636.30) scale(1.0417 1)" font-size="50" stroke="#000" stroke-width="0.45" stroke-linejoin="round">.</text>
<text transform="translate(2019.92 636.30) scale(0.9665 1)" font-size="50" stroke="#000" stroke-width="0.45" stroke-linejoin="round">0</text>
<text transform="translate(1974.24 702.80) scale(0.8585 1)" font-size="50" stroke="#000" stroke-width="0.45" stroke-linejoin="round">1</text>
<text transform="translate(2001.46 702.80) scale(1.0417 1)" font-size="50" stroke="#000" stroke-width="0.45" stroke-linejoin="round">.</text>
<text transform="translate(2021.59 702.80) scale(0.8565 1)" font-size="50" stroke="#000" stroke-width="0.45" stroke-linejoin="round">5</text>
<text transform="translate(1974.24 769.30) scale(0.8585 1)" font-size="50" stroke="#000" stroke-width="0.45" stroke-linejoin="round">1</text>
<text transform="translate(2001.46 769.30) scale(1.0417 1)" font-size="50" stroke="#000" stroke-width="0.45" stroke-linejoin="round">.</text>
<text transform="translate(2019.92 769.30) scale(0.9665 1)" font-size="50" stroke="#000" stroke-width="0.45" stroke-linejoin="round">0</text>
<text transform="translate(1969.56 835.80) scale(1.0460 1)" font-size="50" stroke="#000" stroke-width="0.45" stroke-linejoin="round">0</text>
<text transform="translate(2001.46 835.80) scale(1.0417 1)" font-size="50" stroke="#000" stroke-width="0.45" stroke-linejoin="round">.</text>
<text transform="translate(2021.59 835.80) scale(0.8565 1)" font-size="50" stroke="#000" stroke-width="0.45" stroke-linejoin="round">5</text>
<text transform="translate(1969.56 902.30) scale(1.0460 1)" font-size="50" stroke="#000" stroke-width="0.45" stroke-linejoin="round">0</text>
<text transform="translate(2001.46 902.30) scale(1.0417 1)" font-size="50" stroke="#000" stroke-width="0.45" stroke-linejoin="round">.</text>
<text transform="translate(2019.92 902.30) scale(0.9665 1)" font-size="50" stroke="#000" stroke-width="0.45" stroke-linejoin="round">0</text>
</g>
<rect x="1875.6" y="565" width="64" height="318.7" fill="url(#mg)"/>
<g stroke="#fff" stroke-width="1.6"><path d="M1875.6 617.7h12.8M1939.6 617.7h-12.8"/><path d="M1875.6 684.1h12.8M1939.6 684.1h-12.8"/><path d="M1875.6 750.6h12.8M1939.6 750.6h-12.8"/><path d="M1875.6 817.2h12.8M1939.6 817.2h-12.8"/><path d="M1875.6 883.5h12.8M1939.6 883.5h-12.8"/></g>
</svg>
</body></html>
